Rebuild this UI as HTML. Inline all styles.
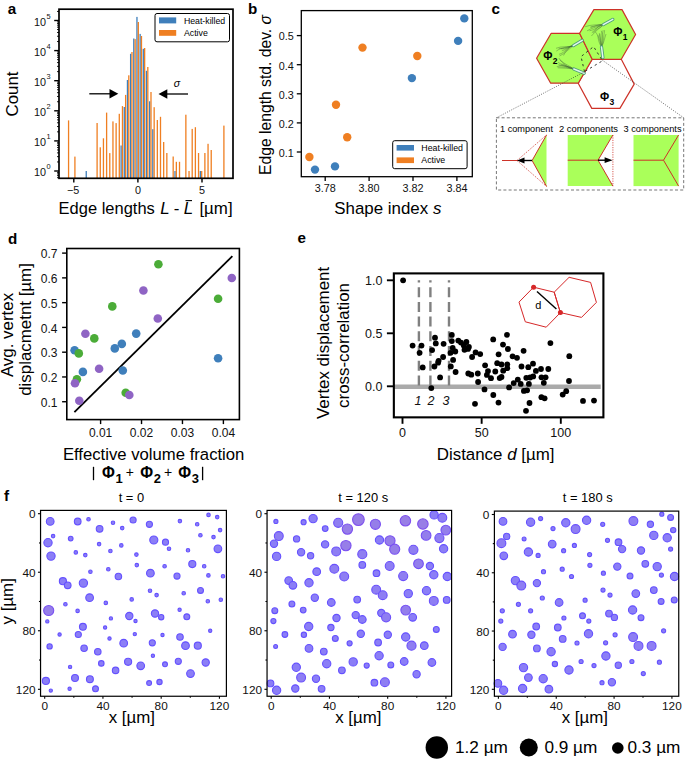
<!DOCTYPE html>
<html><head><meta charset="utf-8"><style>html,body{margin:0;padding:0;background:#fff;}svg{display:block;font-family:"Liberation Sans",sans-serif;}</style></head>
<body><svg width="685" height="760" viewBox="0 0 685 760" font-family="Liberation Sans, sans-serif"><rect x="85.59" y="171.00" width="1.30" height="7.30" fill="#3f7fbb" stroke="none" stroke-width="1" />
<rect x="120.46" y="145.50" width="1.30" height="32.80" fill="#3f7fbb" stroke="none" stroke-width="1" />
<rect x="123.63" y="107.00" width="1.30" height="71.30" fill="#3f7fbb" stroke="none" stroke-width="1" />
<rect x="126.80" y="80.00" width="1.30" height="98.30" fill="#3f7fbb" stroke="none" stroke-width="1" />
<rect x="129.97" y="53.80" width="1.30" height="124.50" fill="#3f7fbb" stroke="none" stroke-width="1" />
<rect x="133.14" y="38.50" width="1.30" height="139.80" fill="#3f7fbb" stroke="none" stroke-width="1" />
<rect x="136.31" y="16.90" width="1.30" height="161.40" fill="#3f7fbb" stroke="none" stroke-width="1" />
<rect x="139.48" y="33.90" width="1.30" height="144.40" fill="#3f7fbb" stroke="none" stroke-width="1" />
<rect x="142.65" y="48.80" width="1.30" height="129.50" fill="#3f7fbb" stroke="none" stroke-width="1" />
<rect x="145.82" y="70.80" width="1.30" height="107.50" fill="#3f7fbb" stroke="none" stroke-width="1" />
<rect x="148.99" y="101.30" width="1.30" height="77.00" fill="#3f7fbb" stroke="none" stroke-width="1" />
<rect x="152.16" y="129.20" width="1.30" height="49.10" fill="#3f7fbb" stroke="none" stroke-width="1" />
<rect x="174.35" y="171.00" width="1.30" height="7.30" fill="#3f7fbb" stroke="none" stroke-width="1" />
<rect x="199.71" y="171.00" width="1.30" height="7.30" fill="#3f7fbb" stroke="none" stroke-width="1" />
<rect x="67.92" y="120.40" width="1.30" height="57.90" fill="#ef7f22" stroke="none" stroke-width="1" />
<rect x="74.26" y="156.60" width="1.30" height="21.70" fill="#ef7f22" stroke="none" stroke-width="1" />
<rect x="96.45" y="123.00" width="1.30" height="55.30" fill="#ef7f22" stroke="none" stroke-width="1" />
<rect x="99.62" y="147.30" width="1.30" height="31.00" fill="#ef7f22" stroke="none" stroke-width="1" />
<rect x="102.79" y="138.30" width="1.30" height="40.00" fill="#ef7f22" stroke="none" stroke-width="1" />
<rect x="105.96" y="112.60" width="1.30" height="65.70" fill="#ef7f22" stroke="none" stroke-width="1" />
<rect x="109.13" y="153.10" width="1.30" height="25.20" fill="#ef7f22" stroke="none" stroke-width="1" />
<rect x="112.30" y="121.40" width="1.30" height="56.90" fill="#ef7f22" stroke="none" stroke-width="1" />
<rect x="115.47" y="123.10" width="1.30" height="55.20" fill="#ef7f22" stroke="none" stroke-width="1" />
<rect x="118.64" y="113.80" width="1.30" height="64.50" fill="#ef7f22" stroke="none" stroke-width="1" />
<rect x="121.81" y="106.10" width="1.30" height="72.20" fill="#ef7f22" stroke="none" stroke-width="1" />
<rect x="124.98" y="94.90" width="1.30" height="83.40" fill="#ef7f22" stroke="none" stroke-width="1" />
<rect x="128.15" y="75.30" width="1.30" height="103.00" fill="#ef7f22" stroke="none" stroke-width="1" />
<rect x="131.32" y="52.00" width="1.30" height="126.30" fill="#ef7f22" stroke="none" stroke-width="1" />
<rect x="134.49" y="39.10" width="1.30" height="139.20" fill="#ef7f22" stroke="none" stroke-width="1" />
<rect x="137.66" y="22.00" width="1.30" height="156.30" fill="#ef7f22" stroke="none" stroke-width="1" />
<rect x="140.83" y="36.00" width="1.30" height="142.30" fill="#ef7f22" stroke="none" stroke-width="1" />
<rect x="144.00" y="48.00" width="1.30" height="130.30" fill="#ef7f22" stroke="none" stroke-width="1" />
<rect x="147.17" y="67.00" width="1.30" height="111.30" fill="#ef7f22" stroke="none" stroke-width="1" />
<rect x="150.34" y="92.00" width="1.30" height="86.30" fill="#ef7f22" stroke="none" stroke-width="1" />
<rect x="153.51" y="107.20" width="1.30" height="71.10" fill="#ef7f22" stroke="none" stroke-width="1" />
<rect x="156.68" y="120.00" width="1.30" height="58.30" fill="#ef7f22" stroke="none" stroke-width="1" />
<rect x="159.85" y="116.80" width="1.30" height="61.50" fill="#ef7f22" stroke="none" stroke-width="1" />
<rect x="163.02" y="142.00" width="1.30" height="36.30" fill="#ef7f22" stroke="none" stroke-width="1" />
<rect x="166.19" y="153.00" width="1.30" height="25.30" fill="#ef7f22" stroke="none" stroke-width="1" />
<rect x="172.53" y="156.50" width="1.30" height="21.80" fill="#ef7f22" stroke="none" stroke-width="1" />
<rect x="175.70" y="161.80" width="1.30" height="16.50" fill="#ef7f22" stroke="none" stroke-width="1" />
<rect x="178.87" y="161.80" width="1.30" height="16.50" fill="#ef7f22" stroke="none" stroke-width="1" />
<rect x="185.21" y="114.70" width="1.30" height="63.60" fill="#ef7f22" stroke="none" stroke-width="1" />
<rect x="188.38" y="171.00" width="1.30" height="7.30" fill="#ef7f22" stroke="none" stroke-width="1" />
<rect x="191.55" y="128.90" width="1.30" height="49.40" fill="#ef7f22" stroke="none" stroke-width="1" />
<rect x="194.72" y="127.20" width="1.30" height="51.10" fill="#ef7f22" stroke="none" stroke-width="1" />
<rect x="197.89" y="153.00" width="1.30" height="25.30" fill="#ef7f22" stroke="none" stroke-width="1" />
<rect x="201.06" y="171.00" width="1.30" height="7.30" fill="#ef7f22" stroke="none" stroke-width="1" />
<rect x="204.23" y="153.00" width="1.30" height="25.30" fill="#ef7f22" stroke="none" stroke-width="1" />
<rect x="207.40" y="143.80" width="1.30" height="34.50" fill="#ef7f22" stroke="none" stroke-width="1" />
<rect x="210.57" y="150.00" width="1.30" height="28.30" fill="#ef7f22" stroke="none" stroke-width="1" />
<rect x="223.25" y="125.60" width="1.30" height="52.70" fill="#ef7f22" stroke="none" stroke-width="1" />
<rect x="59.00" y="9.20" width="174.00" height="169.10" fill="none" stroke="#000" stroke-width="1.7" />
<line x1="54.20" y1="171.00" x2="59.00" y2="171.00" stroke="#000" stroke-width="1.4" />
<text x="46.00" y="176.10" font-size="10.8" text-anchor="end" font-weight="normal" font-style="normal" fill="#111" >10</text>
<text x="46.50" y="169.30" font-size="7.4" text-anchor="start" font-weight="normal" font-style="normal" fill="#111" >0</text>
<line x1="54.20" y1="140.90" x2="59.00" y2="140.90" stroke="#000" stroke-width="1.4" />
<text x="46.00" y="146.00" font-size="10.8" text-anchor="end" font-weight="normal" font-style="normal" fill="#111" >10</text>
<text x="46.50" y="139.20" font-size="7.4" text-anchor="start" font-weight="normal" font-style="normal" fill="#111" >1</text>
<line x1="54.20" y1="110.80" x2="59.00" y2="110.80" stroke="#000" stroke-width="1.4" />
<text x="46.00" y="115.90" font-size="10.8" text-anchor="end" font-weight="normal" font-style="normal" fill="#111" >10</text>
<text x="46.50" y="109.10" font-size="7.4" text-anchor="start" font-weight="normal" font-style="normal" fill="#111" >2</text>
<line x1="54.20" y1="80.70" x2="59.00" y2="80.70" stroke="#000" stroke-width="1.4" />
<text x="46.00" y="85.80" font-size="10.8" text-anchor="end" font-weight="normal" font-style="normal" fill="#111" >10</text>
<text x="46.50" y="79.00" font-size="7.4" text-anchor="start" font-weight="normal" font-style="normal" fill="#111" >3</text>
<line x1="54.20" y1="50.60" x2="59.00" y2="50.60" stroke="#000" stroke-width="1.4" />
<text x="46.00" y="55.70" font-size="10.8" text-anchor="end" font-weight="normal" font-style="normal" fill="#111" >10</text>
<text x="46.50" y="48.90" font-size="7.4" text-anchor="start" font-weight="normal" font-style="normal" fill="#111" >4</text>
<line x1="54.20" y1="20.50" x2="59.00" y2="20.50" stroke="#000" stroke-width="1.4" />
<text x="46.00" y="25.60" font-size="10.8" text-anchor="end" font-weight="normal" font-style="normal" fill="#111" >10</text>
<text x="46.50" y="18.80" font-size="7.4" text-anchor="start" font-weight="normal" font-style="normal" fill="#111" >5</text>
<line x1="57.00" y1="177.68" x2="59.00" y2="177.68" stroke="#000" stroke-width="0.9" />
<line x1="57.00" y1="175.66" x2="59.00" y2="175.66" stroke="#000" stroke-width="0.9" />
<line x1="57.00" y1="173.92" x2="59.00" y2="173.92" stroke="#000" stroke-width="0.9" />
<line x1="57.00" y1="172.38" x2="59.00" y2="172.38" stroke="#000" stroke-width="0.9" />
<line x1="57.00" y1="161.94" x2="59.00" y2="161.94" stroke="#000" stroke-width="0.9" />
<line x1="57.00" y1="156.64" x2="59.00" y2="156.64" stroke="#000" stroke-width="0.9" />
<line x1="57.00" y1="152.88" x2="59.00" y2="152.88" stroke="#000" stroke-width="0.9" />
<line x1="57.00" y1="149.96" x2="59.00" y2="149.96" stroke="#000" stroke-width="0.9" />
<line x1="57.00" y1="147.58" x2="59.00" y2="147.58" stroke="#000" stroke-width="0.9" />
<line x1="57.00" y1="145.56" x2="59.00" y2="145.56" stroke="#000" stroke-width="0.9" />
<line x1="57.00" y1="143.82" x2="59.00" y2="143.82" stroke="#000" stroke-width="0.9" />
<line x1="57.00" y1="142.28" x2="59.00" y2="142.28" stroke="#000" stroke-width="0.9" />
<line x1="57.00" y1="131.84" x2="59.00" y2="131.84" stroke="#000" stroke-width="0.9" />
<line x1="57.00" y1="126.54" x2="59.00" y2="126.54" stroke="#000" stroke-width="0.9" />
<line x1="57.00" y1="122.78" x2="59.00" y2="122.78" stroke="#000" stroke-width="0.9" />
<line x1="57.00" y1="119.86" x2="59.00" y2="119.86" stroke="#000" stroke-width="0.9" />
<line x1="57.00" y1="117.48" x2="59.00" y2="117.48" stroke="#000" stroke-width="0.9" />
<line x1="57.00" y1="115.46" x2="59.00" y2="115.46" stroke="#000" stroke-width="0.9" />
<line x1="57.00" y1="113.72" x2="59.00" y2="113.72" stroke="#000" stroke-width="0.9" />
<line x1="57.00" y1="112.18" x2="59.00" y2="112.18" stroke="#000" stroke-width="0.9" />
<line x1="57.00" y1="101.74" x2="59.00" y2="101.74" stroke="#000" stroke-width="0.9" />
<line x1="57.00" y1="96.44" x2="59.00" y2="96.44" stroke="#000" stroke-width="0.9" />
<line x1="57.00" y1="92.68" x2="59.00" y2="92.68" stroke="#000" stroke-width="0.9" />
<line x1="57.00" y1="89.76" x2="59.00" y2="89.76" stroke="#000" stroke-width="0.9" />
<line x1="57.00" y1="87.38" x2="59.00" y2="87.38" stroke="#000" stroke-width="0.9" />
<line x1="57.00" y1="85.36" x2="59.00" y2="85.36" stroke="#000" stroke-width="0.9" />
<line x1="57.00" y1="83.62" x2="59.00" y2="83.62" stroke="#000" stroke-width="0.9" />
<line x1="57.00" y1="82.08" x2="59.00" y2="82.08" stroke="#000" stroke-width="0.9" />
<line x1="57.00" y1="71.64" x2="59.00" y2="71.64" stroke="#000" stroke-width="0.9" />
<line x1="57.00" y1="66.34" x2="59.00" y2="66.34" stroke="#000" stroke-width="0.9" />
<line x1="57.00" y1="62.58" x2="59.00" y2="62.58" stroke="#000" stroke-width="0.9" />
<line x1="57.00" y1="59.66" x2="59.00" y2="59.66" stroke="#000" stroke-width="0.9" />
<line x1="57.00" y1="57.28" x2="59.00" y2="57.28" stroke="#000" stroke-width="0.9" />
<line x1="57.00" y1="55.26" x2="59.00" y2="55.26" stroke="#000" stroke-width="0.9" />
<line x1="57.00" y1="53.52" x2="59.00" y2="53.52" stroke="#000" stroke-width="0.9" />
<line x1="57.00" y1="51.98" x2="59.00" y2="51.98" stroke="#000" stroke-width="0.9" />
<line x1="57.00" y1="41.54" x2="59.00" y2="41.54" stroke="#000" stroke-width="0.9" />
<line x1="57.00" y1="36.24" x2="59.00" y2="36.24" stroke="#000" stroke-width="0.9" />
<line x1="57.00" y1="32.48" x2="59.00" y2="32.48" stroke="#000" stroke-width="0.9" />
<line x1="57.00" y1="29.56" x2="59.00" y2="29.56" stroke="#000" stroke-width="0.9" />
<line x1="57.00" y1="27.18" x2="59.00" y2="27.18" stroke="#000" stroke-width="0.9" />
<line x1="57.00" y1="25.16" x2="59.00" y2="25.16" stroke="#000" stroke-width="0.9" />
<line x1="57.00" y1="23.42" x2="59.00" y2="23.42" stroke="#000" stroke-width="0.9" />
<line x1="57.00" y1="21.88" x2="59.00" y2="21.88" stroke="#000" stroke-width="0.9" />
<line x1="57.00" y1="11.44" x2="59.00" y2="11.44" stroke="#000" stroke-width="0.9" />
<line x1="73.80" y1="178.30" x2="73.80" y2="182.60" stroke="#000" stroke-width="1.4" />
<text x="73.20" y="194.30" font-size="10.8" text-anchor="middle" font-weight="normal" font-style="normal" fill="#111" >−5</text>
<line x1="137.90" y1="178.30" x2="137.90" y2="182.60" stroke="#000" stroke-width="1.4" />
<text x="137.90" y="194.30" font-size="10.8" text-anchor="middle" font-weight="normal" font-style="normal" fill="#111" >0</text>
<line x1="202.00" y1="178.30" x2="202.00" y2="182.60" stroke="#000" stroke-width="1.4" />
<text x="202.00" y="194.30" font-size="10.8" text-anchor="middle" font-weight="normal" font-style="normal" fill="#111" >5</text>
<text x="17.60" y="94.00" font-size="16.9" text-anchor="middle" font-weight="normal" font-style="normal" fill="#000" transform="rotate(-90 17.6 94)">Count</text>
<text x="58.60" y="213.80" font-size="16.9" text-anchor="start" font-weight="normal" font-style="normal" fill="#000" textLength="96.2" lengthAdjust="spacingAndGlyphs">Edge lengths</text>
<text x="160.20" y="213.80" font-size="16.9" text-anchor="start" font-weight="normal" font-style="italic" fill="#000" >L</text>
<text x="173.80" y="213.80" font-size="16.9" text-anchor="start" font-weight="normal" font-style="normal" fill="#000" >-</text>
<text x="183.80" y="213.80" font-size="16.9" text-anchor="start" font-weight="normal" font-style="italic" fill="#000" >L</text>
<line x1="185.50" y1="200.60" x2="192.00" y2="200.60" stroke="#000" stroke-width="1.1" />
<text x="199.40" y="213.80" font-size="16.9" text-anchor="start" font-weight="normal" font-style="normal" fill="#000" >[µm]</text>
<rect x="155.00" y="13.50" width="74.50" height="28.30" fill="#fff" stroke="#000" stroke-width="1.0" rx="2"/>
<rect x="159.00" y="17.40" width="17.20" height="6.00" fill="#3f7fbb" stroke="none" stroke-width="1" />
<rect x="159.00" y="30.00" width="17.20" height="5.80" fill="#ef7f22" stroke="none" stroke-width="1" />
<text x="183.90" y="23.70" font-size="8.8" text-anchor="start" font-weight="normal" font-style="normal" fill="#000" textLength="41.3" lengthAdjust="spacingAndGlyphs">Heat-killed</text>
<text x="183.90" y="36.10" font-size="8.8" text-anchor="start" font-weight="normal" font-style="normal" fill="#000" >Active</text>
<line x1="89.30" y1="93.80" x2="111.00" y2="93.80" stroke="#000" stroke-width="1.3" />
<polygon points="118.3,93.8 109.5,89.1 109.5,98.5" fill="#000"/>
<line x1="166.00" y1="94.00" x2="188.00" y2="94.00" stroke="#000" stroke-width="1.3" />
<polygon points="158.5,94 167.3,89.3 167.3,98.7" fill="#000"/>
<text x="177.00" y="86.50" font-size="10.5" text-anchor="middle" font-weight="normal" font-style="italic" fill="#000" >σ</text>
<text x="7.80" y="14.00" font-size="15.2" text-anchor="start" font-weight="bold" font-style="normal" fill="#000" >a</text>
<rect x="301.30" y="10.60" width="171.00" height="166.10" fill="none" stroke="#000" stroke-width="1.3" />
<line x1="296.80" y1="152.00" x2="301.30" y2="152.00" stroke="#000" stroke-width="1.3" />
<text x="293.80" y="156.80" font-size="10.8" text-anchor="end" font-weight="normal" font-style="normal" fill="#111" >0.1</text>
<line x1="296.80" y1="122.90" x2="301.30" y2="122.90" stroke="#000" stroke-width="1.3" />
<text x="293.80" y="127.70" font-size="10.8" text-anchor="end" font-weight="normal" font-style="normal" fill="#111" >0.2</text>
<line x1="296.80" y1="93.80" x2="301.30" y2="93.80" stroke="#000" stroke-width="1.3" />
<text x="293.80" y="98.60" font-size="10.8" text-anchor="end" font-weight="normal" font-style="normal" fill="#111" >0.3</text>
<line x1="296.80" y1="64.70" x2="301.30" y2="64.70" stroke="#000" stroke-width="1.3" />
<text x="293.80" y="69.50" font-size="10.8" text-anchor="end" font-weight="normal" font-style="normal" fill="#111" >0.4</text>
<line x1="296.80" y1="35.60" x2="301.30" y2="35.60" stroke="#000" stroke-width="1.3" />
<text x="293.80" y="40.40" font-size="10.8" text-anchor="end" font-weight="normal" font-style="normal" fill="#111" >0.5</text>
<line x1="325.20" y1="176.70" x2="325.20" y2="181.00" stroke="#000" stroke-width="1.3" />
<text x="325.20" y="192.20" font-size="10.8" text-anchor="middle" font-weight="normal" font-style="normal" fill="#111" >3.78</text>
<line x1="369.10" y1="176.70" x2="369.10" y2="181.00" stroke="#000" stroke-width="1.3" />
<text x="369.10" y="192.20" font-size="10.8" text-anchor="middle" font-weight="normal" font-style="normal" fill="#111" >3.80</text>
<line x1="413.00" y1="176.70" x2="413.00" y2="181.00" stroke="#000" stroke-width="1.3" />
<text x="413.00" y="192.20" font-size="10.8" text-anchor="middle" font-weight="normal" font-style="normal" fill="#111" >3.82</text>
<line x1="456.90" y1="176.70" x2="456.90" y2="181.00" stroke="#000" stroke-width="1.3" />
<text x="456.90" y="192.20" font-size="10.8" text-anchor="middle" font-weight="normal" font-style="normal" fill="#111" >3.84</text>
<circle cx="309.40" cy="157.00" r="4.20" fill="#ef7f22" />
<circle cx="336.00" cy="104.80" r="4.20" fill="#ef7f22" />
<circle cx="347.20" cy="137.30" r="4.20" fill="#ef7f22" />
<circle cx="362.50" cy="47.60" r="4.20" fill="#ef7f22" />
<circle cx="417.30" cy="56.00" r="4.20" fill="#ef7f22" />
<circle cx="315.00" cy="169.60" r="4.20" fill="#3f7fbb" />
<circle cx="335.00" cy="166.40" r="4.20" fill="#3f7fbb" />
<circle cx="411.90" cy="78.10" r="4.20" fill="#3f7fbb" />
<circle cx="458.10" cy="40.90" r="4.20" fill="#3f7fbb" />
<circle cx="464.30" cy="18.40" r="4.20" fill="#3f7fbb" />
<rect x="392.70" y="140.70" width="74.40" height="28.00" fill="#fff" stroke="#000" stroke-width="1.0" rx="2"/>
<rect x="396.60" y="145.00" width="17.40" height="5.60" fill="#3f7fbb" stroke="none" stroke-width="1" />
<rect x="396.60" y="157.40" width="17.40" height="5.70" fill="#ef7f22" stroke="none" stroke-width="1" />
<text x="421.30" y="150.90" font-size="8.8" text-anchor="start" font-weight="normal" font-style="normal" fill="#000" textLength="41.7" lengthAdjust="spacingAndGlyphs">Heat-killed</text>
<text x="421.30" y="163.10" font-size="8.8" text-anchor="start" font-weight="normal" font-style="normal" fill="#000" >Active</text>
<text x="270.60" y="95.00" font-size="15.6" text-anchor="middle" font-weight="normal" font-style="normal" fill="#000" transform="rotate(-90 270.6 95)" textLength="160" lengthAdjust="spacingAndGlyphs">Edge length std. dev. <tspan font-style="italic">σ</tspan></text>
<text x="387.80" y="214.20" font-size="16.9" text-anchor="middle" font-weight="normal" font-style="normal" fill="#000" >Shape index <tspan font-style="italic">s</tspan></text>
<text x="247.90" y="13.90" font-size="15.2" text-anchor="start" font-weight="bold" font-style="normal" fill="#000" >b</text>
<rect x="66.80" y="248.50" width="172.60" height="171.10" fill="none" stroke="#000" stroke-width="1.6" />
<line x1="62.10" y1="401.73" x2="66.80" y2="401.73" stroke="#000" stroke-width="1.4" />
<text x="57.40" y="406.83" font-size="12" text-anchor="end" font-weight="normal" font-style="normal" fill="#111" >0.1</text>
<line x1="62.10" y1="376.96" x2="66.80" y2="376.96" stroke="#000" stroke-width="1.4" />
<text x="57.40" y="382.06" font-size="12" text-anchor="end" font-weight="normal" font-style="normal" fill="#111" >0.2</text>
<line x1="62.10" y1="352.19" x2="66.80" y2="352.19" stroke="#000" stroke-width="1.4" />
<text x="57.40" y="357.29" font-size="12" text-anchor="end" font-weight="normal" font-style="normal" fill="#111" >0.3</text>
<line x1="62.10" y1="327.42" x2="66.80" y2="327.42" stroke="#000" stroke-width="1.4" />
<text x="57.40" y="332.52" font-size="12" text-anchor="end" font-weight="normal" font-style="normal" fill="#111" >0.4</text>
<line x1="62.10" y1="302.65" x2="66.80" y2="302.65" stroke="#000" stroke-width="1.4" />
<text x="57.40" y="307.75" font-size="12" text-anchor="end" font-weight="normal" font-style="normal" fill="#111" >0.5</text>
<line x1="62.10" y1="277.88" x2="66.80" y2="277.88" stroke="#000" stroke-width="1.4" />
<text x="57.40" y="282.98" font-size="12" text-anchor="end" font-weight="normal" font-style="normal" fill="#111" >0.6</text>
<line x1="62.10" y1="253.11" x2="66.80" y2="253.11" stroke="#000" stroke-width="1.4" />
<text x="57.40" y="258.21" font-size="12" text-anchor="end" font-weight="normal" font-style="normal" fill="#111" >0.7</text>
<line x1="100.60" y1="419.60" x2="100.60" y2="424.10" stroke="#000" stroke-width="1.4" />
<text x="100.60" y="437.00" font-size="12" text-anchor="middle" font-weight="normal" font-style="normal" fill="#111" >0.01</text>
<line x1="141.53" y1="419.60" x2="141.53" y2="424.10" stroke="#000" stroke-width="1.4" />
<text x="141.53" y="437.00" font-size="12" text-anchor="middle" font-weight="normal" font-style="normal" fill="#111" >0.02</text>
<line x1="182.46" y1="419.60" x2="182.46" y2="424.10" stroke="#000" stroke-width="1.4" />
<text x="182.46" y="437.00" font-size="12" text-anchor="middle" font-weight="normal" font-style="normal" fill="#111" >0.03</text>
<line x1="223.39" y1="419.60" x2="223.39" y2="424.10" stroke="#000" stroke-width="1.4" />
<text x="223.39" y="437.00" font-size="12" text-anchor="middle" font-weight="normal" font-style="normal" fill="#111" >0.04</text>
<line x1="74.40" y1="412.10" x2="232.40" y2="256.10" stroke="#000" stroke-width="1.8" />
<circle cx="74.60" cy="350.30" r="4.30" fill="#3f7fbb" />
<circle cx="82.90" cy="371.90" r="4.30" fill="#3f7fbb" />
<circle cx="114.80" cy="348.40" r="4.30" fill="#3f7fbb" />
<circle cx="121.80" cy="343.90" r="4.30" fill="#3f7fbb" />
<circle cx="122.80" cy="370.50" r="4.30" fill="#3f7fbb" />
<circle cx="136.20" cy="333.60" r="4.30" fill="#3f7fbb" />
<circle cx="218.10" cy="358.30" r="4.30" fill="#3f7fbb" />
<circle cx="78.80" cy="353.40" r="4.30" fill="#4bac38" />
<circle cx="76.90" cy="379.30" r="4.30" fill="#4bac38" />
<circle cx="94.30" cy="338.40" r="4.30" fill="#4bac38" />
<circle cx="112.30" cy="306.40" r="4.30" fill="#4bac38" />
<circle cx="125.70" cy="392.70" r="4.30" fill="#4bac38" />
<circle cx="158.40" cy="264.30" r="4.30" fill="#4bac38" />
<circle cx="218.10" cy="298.80" r="4.30" fill="#4bac38" />
<circle cx="75.00" cy="383.30" r="4.30" fill="#8f64c4" />
<circle cx="79.30" cy="400.70" r="4.30" fill="#8f64c4" />
<circle cx="85.40" cy="333.80" r="4.30" fill="#8f64c4" />
<circle cx="99.10" cy="368.80" r="4.30" fill="#8f64c4" />
<circle cx="129.30" cy="395.00" r="4.30" fill="#8f64c4" />
<circle cx="143.40" cy="290.50" r="4.30" fill="#8f64c4" />
<circle cx="157.80" cy="318.50" r="4.30" fill="#8f64c4" />
<circle cx="231.80" cy="278.00" r="4.30" fill="#8f64c4" />
<text x="13.00" y="335.00" font-size="16.9" text-anchor="middle" font-weight="normal" font-style="normal" fill="#000" transform="rotate(-90 13 335)">Avg. vertex</text>
<text x="31.30" y="329.50" font-size="16.9" text-anchor="middle" font-weight="normal" font-style="normal" fill="#000" transform="rotate(-90 31.3 329.5)">displacmetnt [µm]</text>
<text x="153.65" y="459.60" font-size="16.9" text-anchor="middle" font-weight="normal" font-style="normal" fill="#000" textLength="181.5" lengthAdjust="spacingAndGlyphs">Effective volume fraction</text>
<line x1="93.50" y1="466.80" x2="93.50" y2="480.20" stroke="#000" stroke-width="1.3" />
<line x1="202.60" y1="466.80" x2="202.60" y2="480.20" stroke="#000" stroke-width="1.3" />
<text x="108.50" y="477.60" font-size="15.6" text-anchor="middle" font-weight="bold" font-style="normal" fill="#000" >Φ</text>
<text x="119.20" y="482.60" font-size="13" text-anchor="middle" font-weight="bold" font-style="normal" fill="#000" >1</text>
<text x="146.60" y="477.60" font-size="15.6" text-anchor="middle" font-weight="bold" font-style="normal" fill="#000" >Φ</text>
<text x="157.30" y="482.60" font-size="13" text-anchor="middle" font-weight="bold" font-style="normal" fill="#000" >2</text>
<text x="184.60" y="477.60" font-size="15.6" text-anchor="middle" font-weight="bold" font-style="normal" fill="#000" >Φ</text>
<text x="195.30" y="482.60" font-size="13" text-anchor="middle" font-weight="bold" font-style="normal" fill="#000" >3</text>
<text x="129.90" y="476.60" font-size="14" text-anchor="middle" font-weight="normal" font-style="normal" fill="#000" >+</text>
<text x="168.00" y="476.60" font-size="14" text-anchor="middle" font-weight="normal" font-style="normal" fill="#000" >+</text>
<text x="7.90" y="243.50" font-size="15.2" text-anchor="start" font-weight="bold" font-style="normal" fill="#000" >d</text>
<line x1="393.50" y1="386.70" x2="600.70" y2="386.70" stroke="#aaaaaa" stroke-width="4.6" />
<line x1="418.90" y1="385.40" x2="418.90" y2="280.30" stroke="#808080" stroke-width="2.4" stroke-dasharray="10 4.7"/>
<line x1="430.40" y1="385.40" x2="430.40" y2="280.30" stroke="#808080" stroke-width="2.4" stroke-dasharray="10 4.7"/>
<line x1="449.00" y1="385.40" x2="449.00" y2="280.30" stroke="#808080" stroke-width="2.4" stroke-dasharray="10 4.7"/>
<circle cx="403.10" cy="280.30" r="2.90" fill="#000" />
<circle cx="412.60" cy="345.60" r="2.90" fill="#000" />
<circle cx="421.50" cy="345.60" r="2.90" fill="#000" />
<circle cx="419.60" cy="352.80" r="2.90" fill="#000" />
<circle cx="422.70" cy="367.40" r="2.90" fill="#000" />
<circle cx="432.10" cy="350.10" r="2.90" fill="#000" />
<circle cx="431.30" cy="388.10" r="2.90" fill="#000" />
<circle cx="435.00" cy="337.70" r="2.90" fill="#000" />
<circle cx="435.80" cy="343.40" r="2.90" fill="#000" />
<circle cx="443.60" cy="343.80" r="2.90" fill="#000" />
<circle cx="443.10" cy="357.00" r="2.90" fill="#000" />
<circle cx="438.10" cy="362.70" r="2.90" fill="#000" />
<circle cx="434.40" cy="366.50" r="2.90" fill="#000" />
<circle cx="440.10" cy="377.40" r="2.90" fill="#000" />
<circle cx="451.80" cy="334.90" r="2.90" fill="#000" />
<circle cx="451.80" cy="341.10" r="2.90" fill="#000" />
<circle cx="452.70" cy="348.00" r="2.90" fill="#000" />
<circle cx="450.50" cy="352.80" r="2.90" fill="#000" />
<circle cx="455.30" cy="351.50" r="2.90" fill="#000" />
<circle cx="453.10" cy="359.90" r="2.90" fill="#000" />
<circle cx="450.80" cy="366.40" r="2.90" fill="#000" />
<circle cx="455.60" cy="372.00" r="2.90" fill="#000" />
<circle cx="458.30" cy="340.60" r="2.90" fill="#000" />
<circle cx="461.00" cy="342.60" r="2.90" fill="#000" />
<circle cx="466.40" cy="342.00" r="2.90" fill="#000" />
<circle cx="463.80" cy="345.40" r="2.90" fill="#000" />
<circle cx="468.90" cy="347.00" r="2.90" fill="#000" />
<circle cx="464.50" cy="349.80" r="2.90" fill="#000" />
<circle cx="468.00" cy="348.90" r="2.90" fill="#000" />
<circle cx="472.10" cy="357.00" r="2.90" fill="#000" />
<circle cx="468.30" cy="373.50" r="2.90" fill="#000" />
<circle cx="471.30" cy="374.70" r="2.90" fill="#000" />
<circle cx="475.60" cy="352.40" r="2.90" fill="#000" />
<circle cx="480.20" cy="354.10" r="2.90" fill="#000" />
<circle cx="477.80" cy="373.50" r="2.90" fill="#000" />
<circle cx="478.10" cy="382.00" r="2.90" fill="#000" />
<circle cx="484.50" cy="389.40" r="2.90" fill="#000" />
<circle cx="493.30" cy="395.00" r="2.90" fill="#000" />
<circle cx="475.00" cy="403.80" r="2.90" fill="#000" />
<circle cx="498.50" cy="402.60" r="2.90" fill="#000" />
<circle cx="493.20" cy="339.40" r="2.90" fill="#000" />
<circle cx="507.00" cy="334.80" r="2.90" fill="#000" />
<circle cx="503.00" cy="344.60" r="2.90" fill="#000" />
<circle cx="507.90" cy="349.00" r="2.90" fill="#000" />
<circle cx="498.60" cy="354.30" r="2.90" fill="#000" />
<circle cx="485.10" cy="365.30" r="2.90" fill="#000" />
<circle cx="488.00" cy="371.10" r="2.90" fill="#000" />
<circle cx="486.90" cy="374.90" r="2.90" fill="#000" />
<circle cx="495.30" cy="371.50" r="2.90" fill="#000" />
<circle cx="491.00" cy="378.20" r="2.90" fill="#000" />
<circle cx="499.70" cy="378.10" r="2.90" fill="#000" />
<circle cx="497.20" cy="363.20" r="2.90" fill="#000" />
<circle cx="501.50" cy="364.50" r="2.90" fill="#000" />
<circle cx="507.30" cy="364.40" r="2.90" fill="#000" />
<circle cx="507.30" cy="368.20" r="2.90" fill="#000" />
<circle cx="503.20" cy="370.70" r="2.90" fill="#000" />
<circle cx="509.10" cy="387.40" r="2.90" fill="#000" />
<circle cx="513.70" cy="383.10" r="2.90" fill="#000" />
<circle cx="517.80" cy="379.60" r="2.90" fill="#000" />
<circle cx="520.70" cy="383.90" r="2.90" fill="#000" />
<circle cx="523.60" cy="350.80" r="2.90" fill="#000" />
<circle cx="512.60" cy="356.30" r="2.90" fill="#000" />
<circle cx="517.00" cy="357.80" r="2.90" fill="#000" />
<circle cx="521.50" cy="366.50" r="2.90" fill="#000" />
<circle cx="528.30" cy="367.20" r="2.90" fill="#000" />
<circle cx="533.00" cy="363.70" r="2.90" fill="#000" />
<circle cx="535.90" cy="370.90" r="2.90" fill="#000" />
<circle cx="526.30" cy="377.80" r="2.90" fill="#000" />
<circle cx="530.10" cy="377.50" r="2.90" fill="#000" />
<circle cx="533.20" cy="376.40" r="2.90" fill="#000" />
<circle cx="528.90" cy="383.90" r="2.90" fill="#000" />
<circle cx="523.90" cy="390.90" r="2.90" fill="#000" />
<circle cx="527.10" cy="390.30" r="2.90" fill="#000" />
<circle cx="529.50" cy="403.00" r="2.90" fill="#000" />
<circle cx="526.00" cy="410.80" r="2.90" fill="#000" />
<circle cx="550.40" cy="343.10" r="2.90" fill="#000" />
<circle cx="569.30" cy="356.20" r="2.90" fill="#000" />
<circle cx="541.00" cy="369.00" r="2.90" fill="#000" />
<circle cx="548.30" cy="369.00" r="2.90" fill="#000" />
<circle cx="541.50" cy="377.30" r="2.90" fill="#000" />
<circle cx="545.60" cy="377.30" r="2.90" fill="#000" />
<circle cx="543.80" cy="382.80" r="2.90" fill="#000" />
<circle cx="569.00" cy="381.00" r="2.90" fill="#000" />
<circle cx="566.20" cy="391.20" r="2.90" fill="#000" />
<circle cx="562.70" cy="394.60" r="2.90" fill="#000" />
<circle cx="541.40" cy="397.20" r="2.90" fill="#000" />
<circle cx="544.60" cy="398.30" r="2.90" fill="#000" />
<circle cx="583.00" cy="400.90" r="2.90" fill="#000" />
<circle cx="594.00" cy="400.60" r="2.90" fill="#000" />
<circle cx="501.50" cy="377.00" r="2.90" fill="#000" />
<circle cx="438.60" cy="360.80" r="2.90" fill="#000" />
<polygon points="533.6,287.2 554.2,292.2 560.4,312.6 546.2,327.2 525.3,321.8 519,302.1" fill="none" stroke="#d62728" stroke-width="1"/>
<polygon points="554.2,292.2 569.1,277.3 590.6,282.4 596.4,302.4 581.5,317.4 560.4,312.6" fill="none" stroke="#d62728" stroke-width="1"/>
<circle cx="533.60" cy="287.20" r="2.50" fill="#d62728" />
<circle cx="560.40" cy="312.60" r="2.50" fill="#d62728" />
<line x1="537.00" y1="291.60" x2="556.40" y2="309.10" stroke="#000" stroke-width="1.4" />
<text x="538.20" y="309.40" font-size="11" text-anchor="middle" font-weight="normal" font-style="normal" fill="#000" >d</text>
<rect x="393.85" y="273.40" width="209.55" height="143.95" fill="none" stroke="#000" stroke-width="2.1" />
<line x1="386.90" y1="386.30" x2="393.85" y2="386.30" stroke="#000" stroke-width="1.9" />
<text x="382.40" y="390.80" font-size="12.5" text-anchor="end" font-weight="normal" font-style="normal" fill="#111" >0.0</text>
<line x1="386.90" y1="333.30" x2="393.85" y2="333.30" stroke="#000" stroke-width="1.9" />
<text x="382.40" y="337.80" font-size="12.5" text-anchor="end" font-weight="normal" font-style="normal" fill="#111" >0.5</text>
<line x1="386.90" y1="280.30" x2="393.85" y2="280.30" stroke="#000" stroke-width="1.9" />
<text x="382.40" y="284.80" font-size="12.5" text-anchor="end" font-weight="normal" font-style="normal" fill="#111" >1.0</text>
<line x1="402.50" y1="417.35" x2="402.50" y2="423.80" stroke="#000" stroke-width="1.9" />
<text x="402.50" y="436.80" font-size="12.5" text-anchor="middle" font-weight="normal" font-style="normal" fill="#111" >0</text>
<line x1="481.65" y1="417.35" x2="481.65" y2="423.80" stroke="#000" stroke-width="1.9" />
<text x="481.65" y="436.80" font-size="12.5" text-anchor="middle" font-weight="normal" font-style="normal" fill="#111" >50</text>
<line x1="560.80" y1="417.35" x2="560.80" y2="423.80" stroke="#000" stroke-width="1.9" />
<text x="560.80" y="436.80" font-size="12.5" text-anchor="middle" font-weight="normal" font-style="normal" fill="#111" >100</text>
<text x="418.00" y="405.00" font-size="12.5" text-anchor="middle" font-weight="normal" font-style="italic" fill="#111" >1</text>
<text x="431.10" y="405.00" font-size="12.5" text-anchor="middle" font-weight="normal" font-style="italic" fill="#111" >2</text>
<text x="446.00" y="405.00" font-size="12.5" text-anchor="middle" font-weight="normal" font-style="italic" fill="#111" >3</text>
<text x="329.00" y="342.90" font-size="16.9" text-anchor="middle" font-weight="normal" font-style="normal" fill="#000" transform="rotate(-90 329 342.9)">Vertex displacement</text>
<text x="349.30" y="345.50" font-size="16.9" text-anchor="middle" font-weight="normal" font-style="normal" fill="#000" transform="rotate(-90 349.3 345.5)">cross-correlation</text>
<text x="495.60" y="459.70" font-size="16.9" text-anchor="middle" font-weight="normal" font-style="normal" fill="#000" >Distance <tspan font-style="italic">d</tspan> [µm]</text>
<text x="297.40" y="243.00" font-size="15.2" text-anchor="start" font-weight="bold" font-style="normal" fill="#000" >e</text>
<polygon points="592.2,59.3 621.3,59.3 634.2,84.1 619.9,108.4 591.8,108.4 578.2,83.2" fill="#fff" stroke="#cd3228" stroke-width="1.2" stroke-linejoin="round"/>
<polygon points="551.2,33.3 579.6,33.3 592.2,59.3 578.2,83.2 550.7,83.2 536.6,58.3" fill="#aaff5a" stroke="#cd3228" stroke-width="1.2" stroke-linejoin="round"/>
<polygon points="593.9,9.6 622,9.6 635.6,34.5 621.3,59.3 592.2,59.3 579.6,33.3" fill="#aaff5a" stroke="#cd3228" stroke-width="1.2" stroke-linejoin="round"/>
<path d="M603.3,24.6 C599.7,28.0 595.3,31.3 591.4,36.0" fill="none" stroke="#3c5e38" stroke-width="0.55" opacity="0.7"/>
<path d="M603.3,24.6 C600.9,28.7 595.9,28.5 592.9,32.9" fill="none" stroke="#3c5e38" stroke-width="0.55" opacity="0.7"/>
<path d="M603.3,24.6 C598.8,24.8 595.8,29.8 591.8,32.6" fill="none" stroke="#3c5e38" stroke-width="0.55" opacity="0.7"/>
<path d="M603.3,24.6 C598.9,25.9 595.0,30.0 589.5,30.8" fill="none" stroke="#3c5e38" stroke-width="0.55" opacity="0.7"/>
<path d="M603.3,24.6 C598.4,26.4 592.4,27.7 587.1,30.8" fill="none" stroke="#3c5e38" stroke-width="0.55" opacity="0.7"/>
<path d="M603.3,24.6 C599.1,24.7 594.9,26.3 590.5,27.6" fill="none" stroke="#3c5e38" stroke-width="0.55" opacity="0.7"/>
<path d="M603.3,24.6 C598.9,24.1 595.0,26.3 590.4,26.9" fill="none" stroke="#3c5e38" stroke-width="0.55" opacity="0.7"/>
<path d="M603.3,24.6 C597.7,24.9 590.9,24.5 585.2,26.7" fill="none" stroke="#3c5e38" stroke-width="0.55" opacity="0.7"/>
<line x1="603.30" y1="24.60" x2="612.80" y2="19.40" stroke="#4f9f78" stroke-width="3.3" stroke-linecap="round"/>
<line x1="603.30" y1="24.60" x2="612.80" y2="19.40" stroke="#e2f7ee" stroke-width="1.5" stroke-linecap="round"/>
<path d="M601.5,47.0 C599.9,42.4 599.6,36.9 595.2,31.7" fill="none" stroke="#3c5e38" stroke-width="0.55" opacity="0.7"/>
<path d="M601.5,47.0 C599.1,43.5 598.0,39.3 597.9,35.1" fill="none" stroke="#3c5e38" stroke-width="0.55" opacity="0.7"/>
<path d="M601.5,47.0 C601.5,42.8 599.3,38.1 599.3,33.3" fill="none" stroke="#3c5e38" stroke-width="0.55" opacity="0.7"/>
<path d="M601.5,47.0 C600.4,43.0 600.8,38.2 599.9,33.5" fill="none" stroke="#3c5e38" stroke-width="0.55" opacity="0.7"/>
<path d="M601.5,47.0 C602.1,42.1 603.2,36.3 601.3,30.8" fill="none" stroke="#3c5e38" stroke-width="0.55" opacity="0.7"/>
<path d="M601.5,47.0 C602.5,41.9 601.0,36.2 603.2,30.2" fill="none" stroke="#3c5e38" stroke-width="0.55" opacity="0.7"/>
<path d="M601.5,47.0 C603.8,41.9 603.6,36.1 604.6,30.2" fill="none" stroke="#3c5e38" stroke-width="0.55" opacity="0.7"/>
<path d="M601.5,47.0 C603.8,43.0 604.5,38.5 606.0,34.0" fill="none" stroke="#3c5e38" stroke-width="0.55" opacity="0.7"/>
<line x1="601.50" y1="47.00" x2="602.90" y2="57.60" stroke="#4f9f78" stroke-width="3.3" stroke-linecap="round"/>
<line x1="601.50" y1="47.00" x2="602.90" y2="57.60" stroke="#e2f7ee" stroke-width="1.5" stroke-linecap="round"/>
<path d="M573.4,45.6 C569.7,46.6 566.1,49.8 563.6,55.5" fill="none" stroke="#3c5e38" stroke-width="0.55" opacity="0.7"/>
<path d="M573.4,45.6 C569.2,48.7 564.9,53.6 559.5,56.0" fill="none" stroke="#3c5e38" stroke-width="0.55" opacity="0.7"/>
<path d="M573.4,45.6 C568.4,46.4 564.7,53.0 559.0,54.3" fill="none" stroke="#3c5e38" stroke-width="0.55" opacity="0.7"/>
<path d="M573.4,45.6 C569.5,46.2 566.2,49.7 561.8,50.9" fill="none" stroke="#3c5e38" stroke-width="0.55" opacity="0.7"/>
<path d="M573.4,45.6 C568.3,47.3 561.5,47.1 556.4,51.0" fill="none" stroke="#3c5e38" stroke-width="0.55" opacity="0.7"/>
<path d="M573.4,45.6 C569.5,46.3 566.0,49.7 560.8,48.8" fill="none" stroke="#3c5e38" stroke-width="0.55" opacity="0.7"/>
<path d="M573.4,45.6 C568.9,46.3 564.5,49.0 558.7,48.4" fill="none" stroke="#3c5e38" stroke-width="0.55" opacity="0.7"/>
<path d="M573.4,45.6 C568.6,47.6 561.4,45.7 556.0,48.3" fill="none" stroke="#3c5e38" stroke-width="0.55" opacity="0.7"/>
<line x1="573.40" y1="45.60" x2="582.20" y2="40.40" stroke="#4f9f78" stroke-width="3.3" stroke-linecap="round"/>
<line x1="573.40" y1="45.60" x2="582.20" y2="40.40" stroke="#e2f7ee" stroke-width="1.5" stroke-linecap="round"/>
<path d="M573.8,69.0 C569.0,68.4 563.4,68.0 557.7,67.8" fill="none" stroke="#3c5e38" stroke-width="0.55" opacity="0.7"/>
<path d="M573.8,69.0 C568.9,67.7 563.0,66.8 556.8,66.6" fill="none" stroke="#3c5e38" stroke-width="0.55" opacity="0.7"/>
<path d="M573.8,69.0 C569.0,67.9 563.8,65.3 557.9,64.8" fill="none" stroke="#3c5e38" stroke-width="0.55" opacity="0.7"/>
<path d="M573.8,69.0 C570.1,65.8 564.3,66.4 559.1,65.2" fill="none" stroke="#3c5e38" stroke-width="0.55" opacity="0.7"/>
<path d="M573.8,69.0 C569.9,67.9 565.8,65.3 561.4,63.8" fill="none" stroke="#3c5e38" stroke-width="0.55" opacity="0.7"/>
<path d="M573.8,69.0 C569.3,66.6 563.0,66.5 558.1,62.3" fill="none" stroke="#3c5e38" stroke-width="0.55" opacity="0.7"/>
<path d="M573.8,69.0 C569.7,65.9 564.4,64.0 559.8,60.1" fill="none" stroke="#3c5e38" stroke-width="0.55" opacity="0.7"/>
<path d="M573.8,69.0 C568.4,68.2 563.4,64.0 558.9,58.1" fill="none" stroke="#3c5e38" stroke-width="0.55" opacity="0.7"/>
<line x1="573.80" y1="69.00" x2="584.20" y2="73.20" stroke="#4f9f78" stroke-width="3.3" stroke-linecap="round"/>
<line x1="573.80" y1="69.00" x2="584.20" y2="73.20" stroke="#e2f7ee" stroke-width="1.5" stroke-linecap="round"/>
<polygon points="584.5,71.6 581,56.6 593.6,46.6 602.5,60.8" fill="none" stroke="#222" stroke-width="0.9" stroke-dasharray="2.3 3.2"/>
<path d="M496.4,117.8 L584.5,71.8" fill="none" stroke="#333" stroke-width="0.7" stroke-dasharray="1 1.4"/>
<path d="M602.5,60.3 L683.7,117.8" fill="none" stroke="#333" stroke-width="0.7" stroke-dasharray="1 1.4"/>
<text x="613.30" y="35.80" font-size="13.6" text-anchor="start" font-weight="bold" font-style="normal" fill="#000" textLength="9.2" lengthAdjust="spacingAndGlyphs">Φ</text>
<text x="625.10" y="40.40" font-size="8.5" text-anchor="middle" font-weight="bold" font-style="normal" fill="#000" >1</text>
<text x="543.30" y="59.60" font-size="13.6" text-anchor="start" font-weight="bold" font-style="normal" fill="#000" textLength="9.2" lengthAdjust="spacingAndGlyphs">Φ</text>
<text x="555.10" y="64.20" font-size="8.5" text-anchor="middle" font-weight="bold" font-style="normal" fill="#000" >2</text>
<text x="600.00" y="100.80" font-size="13.6" text-anchor="start" font-weight="bold" font-style="normal" fill="#000" textLength="9.2" lengthAdjust="spacingAndGlyphs">Φ</text>
<text x="611.80" y="105.40" font-size="8.5" text-anchor="middle" font-weight="bold" font-style="normal" fill="#000" >3</text>
<rect x="496.40" y="117.80" width="187.30" height="72.20" fill="none" stroke="#666" stroke-width="0.9" stroke-dasharray="3 2.2"/>
<text x="500.00" y="131.60" font-size="9.3" text-anchor="start" font-weight="normal" font-style="normal" fill="#000" textLength="53" lengthAdjust="spacingAndGlyphs">1 component</text>
<text x="559.00" y="131.60" font-size="9.3" text-anchor="start" font-weight="normal" font-style="normal" fill="#000" textLength="59" lengthAdjust="spacingAndGlyphs">2 components</text>
<text x="623.50" y="131.60" font-size="9.3" text-anchor="start" font-weight="normal" font-style="normal" fill="#000" textLength="58" lengthAdjust="spacingAndGlyphs">3 components</text>
<polygon points="546.5,135 532.1,160.5 546.5,186.4" fill="#aaff5a" stroke="none" stroke-width="0" stroke-linejoin="round"/>
<line x1="546.50" y1="135.00" x2="532.10" y2="160.50" stroke="#cd3228" stroke-width="1" />
<line x1="532.10" y1="160.50" x2="546.50" y2="186.40" stroke="#cd3228" stroke-width="1" />
<line x1="502.00" y1="160.50" x2="532.10" y2="160.50" stroke="#cd3228" stroke-width="1" />
<line x1="517.00" y1="160.50" x2="546.50" y2="135.00" stroke="#cd3228" stroke-width="0.8" stroke-dasharray="1.2 1.2"/>
<line x1="517.00" y1="160.50" x2="546.50" y2="186.40" stroke="#cd3228" stroke-width="0.8" stroke-dasharray="1.2 1.2"/>
<line x1="523.00" y1="160.50" x2="532.10" y2="160.50" stroke="#000" stroke-width="1.4" />
<polygon points="517,160.5 524.5,157.6 524.5,163.4" fill="#000"/>
<polygon points="567.7,135 612.9,135 598,160.2 612.9,186.1 567.7,186.1" fill="#aaff5a" stroke="none" stroke-width="0" stroke-linejoin="round"/>
<line x1="567.70" y1="160.20" x2="598.00" y2="160.20" stroke="#cd3228" stroke-width="1" />
<line x1="598.00" y1="160.20" x2="612.90" y2="135.00" stroke="#cd3228" stroke-width="1" />
<line x1="598.00" y1="160.20" x2="612.90" y2="186.10" stroke="#cd3228" stroke-width="1" />
<line x1="612.90" y1="135.00" x2="612.90" y2="186.10" stroke="#cd3228" stroke-width="0.8" stroke-dasharray="1.2 1.2"/>
<line x1="598.00" y1="160.20" x2="605.00" y2="160.20" stroke="#000" stroke-width="1.4" />
<polygon points="612.6,160.2 604.6,157.3 604.6,163.1" fill="#000"/>
<rect x="633.50" y="135.00" width="45.10" height="51.10" fill="#aaff5a" stroke="none" stroke-width="1" />
<line x1="633.50" y1="160.20" x2="663.50" y2="160.20" stroke="#cd3228" stroke-width="1" />
<line x1="663.50" y1="160.20" x2="678.60" y2="135.00" stroke="#cd3228" stroke-width="1" />
<line x1="663.50" y1="160.20" x2="678.60" y2="186.10" stroke="#cd3228" stroke-width="1" />
<text x="491.60" y="13.60" font-size="15.2" text-anchor="start" font-weight="bold" font-style="normal" fill="#000" >c</text>
<circle cx="50.20" cy="521.40" r="3.85" fill="#8b7ef6" stroke="#6450ff" stroke-width="1.1"/>
<circle cx="77.70" cy="521.50" r="3.35" fill="#8b7ef6" stroke="#6450ff" stroke-width="1.1"/>
<circle cx="88.50" cy="519.20" r="1.75" fill="#8b7ef6" stroke="#6450ff" stroke-width="1.1"/>
<circle cx="113.00" cy="522.80" r="1.75" fill="#8b7ef6" stroke="#6450ff" stroke-width="1.1"/>
<circle cx="133.10" cy="520.00" r="3.05" fill="#8b7ef6" stroke="#6450ff" stroke-width="1.1"/>
<circle cx="99.60" cy="528.80" r="3.35" fill="#8b7ef6" stroke="#6450ff" stroke-width="1.1"/>
<circle cx="122.20" cy="528.10" r="1.75" fill="#8b7ef6" stroke="#6450ff" stroke-width="1.1"/>
<circle cx="53.10" cy="536.10" r="1.75" fill="#8b7ef6" stroke="#6450ff" stroke-width="1.1"/>
<circle cx="70.70" cy="538.60" r="2.35" fill="#8b7ef6" stroke="#6450ff" stroke-width="1.1"/>
<circle cx="48.00" cy="542.70" r="4.15" fill="#8b7ef6" stroke="#6450ff" stroke-width="1.1"/>
<circle cx="99.10" cy="544.10" r="1.75" fill="#8b7ef6" stroke="#6450ff" stroke-width="1.1"/>
<circle cx="121.30" cy="545.40" r="1.75" fill="#8b7ef6" stroke="#6450ff" stroke-width="1.1"/>
<circle cx="51.00" cy="556.10" r="4.15" fill="#8b7ef6" stroke="#6450ff" stroke-width="1.1"/>
<circle cx="75.80" cy="552.40" r="1.75" fill="#8b7ef6" stroke="#6450ff" stroke-width="1.1"/>
<circle cx="85.30" cy="555.10" r="1.75" fill="#8b7ef6" stroke="#6450ff" stroke-width="1.1"/>
<circle cx="110.40" cy="551.00" r="1.75" fill="#8b7ef6" stroke="#6450ff" stroke-width="1.1"/>
<circle cx="136.40" cy="554.60" r="1.75" fill="#8b7ef6" stroke="#6450ff" stroke-width="1.1"/>
<circle cx="136.80" cy="565.10" r="1.75" fill="#8b7ef6" stroke="#6450ff" stroke-width="1.1"/>
<circle cx="90.40" cy="571.70" r="1.75" fill="#8b7ef6" stroke="#6450ff" stroke-width="1.1"/>
<circle cx="108.30" cy="569.20" r="1.75" fill="#8b7ef6" stroke="#6450ff" stroke-width="1.1"/>
<circle cx="118.40" cy="576.50" r="3.25" fill="#8b7ef6" stroke="#6450ff" stroke-width="1.1"/>
<circle cx="62.90" cy="581.20" r="3.55" fill="#8b7ef6" stroke="#6450ff" stroke-width="1.1"/>
<circle cx="67.70" cy="585.30" r="3.35" fill="#8b7ef6" stroke="#6450ff" stroke-width="1.1"/>
<circle cx="83.40" cy="583.10" r="4.15" fill="#8b7ef6" stroke="#6450ff" stroke-width="1.1"/>
<circle cx="89.60" cy="597.70" r="3.85" fill="#8b7ef6" stroke="#6450ff" stroke-width="1.1"/>
<circle cx="131.70" cy="599.40" r="1.75" fill="#8b7ef6" stroke="#6450ff" stroke-width="1.1"/>
<circle cx="65.40" cy="604.30" r="1.75" fill="#8b7ef6" stroke="#6450ff" stroke-width="1.1"/>
<circle cx="105.80" cy="602.90" r="1.75" fill="#8b7ef6" stroke="#6450ff" stroke-width="1.1"/>
<circle cx="149.40" cy="524.30" r="3.05" fill="#8b7ef6" stroke="#6450ff" stroke-width="1.1"/>
<circle cx="179.90" cy="521.10" r="1.75" fill="#8b7ef6" stroke="#6450ff" stroke-width="1.1"/>
<circle cx="197.20" cy="524.30" r="1.75" fill="#8b7ef6" stroke="#6450ff" stroke-width="1.1"/>
<circle cx="208.50" cy="514.90" r="1.75" fill="#8b7ef6" stroke="#6450ff" stroke-width="1.1"/>
<circle cx="217.20" cy="517.10" r="1.75" fill="#8b7ef6" stroke="#6450ff" stroke-width="1.1"/>
<circle cx="220.10" cy="530.10" r="1.75" fill="#8b7ef6" stroke="#6450ff" stroke-width="1.1"/>
<circle cx="200.40" cy="535.20" r="1.75" fill="#8b7ef6" stroke="#6450ff" stroke-width="1.1"/>
<circle cx="213.50" cy="537.10" r="1.75" fill="#8b7ef6" stroke="#6450ff" stroke-width="1.1"/>
<circle cx="153.80" cy="540.00" r="4.05" fill="#8b7ef6" stroke="#6450ff" stroke-width="1.1"/>
<circle cx="165.50" cy="542.20" r="3.05" fill="#8b7ef6" stroke="#6450ff" stroke-width="1.1"/>
<circle cx="169.00" cy="548.80" r="1.75" fill="#8b7ef6" stroke="#6450ff" stroke-width="1.1"/>
<circle cx="188.00" cy="550.30" r="1.75" fill="#8b7ef6" stroke="#6450ff" stroke-width="1.1"/>
<circle cx="217.90" cy="548.80" r="3.85" fill="#8b7ef6" stroke="#6450ff" stroke-width="1.1"/>
<circle cx="164.60" cy="566.30" r="1.75" fill="#8b7ef6" stroke="#6450ff" stroke-width="1.1"/>
<circle cx="192.30" cy="564.10" r="3.55" fill="#8b7ef6" stroke="#6450ff" stroke-width="1.1"/>
<circle cx="204.20" cy="566.30" r="1.75" fill="#8b7ef6" stroke="#6450ff" stroke-width="1.1"/>
<circle cx="150.40" cy="573.20" r="3.85" fill="#8b7ef6" stroke="#6450ff" stroke-width="1.1"/>
<circle cx="177.00" cy="576.10" r="3.05" fill="#8b7ef6" stroke="#6450ff" stroke-width="1.1"/>
<circle cx="208.40" cy="575.40" r="1.75" fill="#8b7ef6" stroke="#6450ff" stroke-width="1.1"/>
<circle cx="223.00" cy="576.20" r="1.75" fill="#8b7ef6" stroke="#6450ff" stroke-width="1.1"/>
<circle cx="150.00" cy="590.70" r="1.75" fill="#8b7ef6" stroke="#6450ff" stroke-width="1.1"/>
<circle cx="156.60" cy="595.10" r="1.75" fill="#8b7ef6" stroke="#6450ff" stroke-width="1.1"/>
<circle cx="183.70" cy="593.30" r="1.75" fill="#8b7ef6" stroke="#6450ff" stroke-width="1.1"/>
<circle cx="200.50" cy="590.40" r="2.95" fill="#8b7ef6" stroke="#6450ff" stroke-width="1.1"/>
<circle cx="207.80" cy="601.20" r="1.75" fill="#8b7ef6" stroke="#6450ff" stroke-width="1.1"/>
<circle cx="220.80" cy="599.80" r="1.75" fill="#8b7ef6" stroke="#6450ff" stroke-width="1.1"/>
<circle cx="48.70" cy="610.50" r="5.05" fill="#957ee9" stroke="#7950f1" stroke-width="1.1"/>
<circle cx="77.60" cy="610.90" r="1.75" fill="#8b7ef6" stroke="#6450ff" stroke-width="1.1"/>
<circle cx="110.90" cy="618.40" r="1.65" fill="#8b7ef6" stroke="#6450ff" stroke-width="1.1"/>
<circle cx="47.30" cy="621.40" r="1.65" fill="#8b7ef6" stroke="#6450ff" stroke-width="1.1"/>
<circle cx="82.90" cy="626.80" r="3.45" fill="#8b7ef6" stroke="#6450ff" stroke-width="1.1"/>
<circle cx="105.10" cy="627.50" r="1.65" fill="#8b7ef6" stroke="#6450ff" stroke-width="1.1"/>
<circle cx="59.60" cy="634.50" r="1.65" fill="#8b7ef6" stroke="#6450ff" stroke-width="1.1"/>
<circle cx="78.30" cy="634.50" r="3.05" fill="#8b7ef6" stroke="#6450ff" stroke-width="1.1"/>
<circle cx="109.50" cy="638.50" r="1.65" fill="#8b7ef6" stroke="#6450ff" stroke-width="1.1"/>
<circle cx="49.60" cy="646.40" r="2.65" fill="#8b7ef6" stroke="#6450ff" stroke-width="1.1"/>
<circle cx="84.10" cy="648.20" r="3.25" fill="#8b7ef6" stroke="#6450ff" stroke-width="1.1"/>
<circle cx="97.80" cy="651.70" r="3.25" fill="#8b7ef6" stroke="#6450ff" stroke-width="1.1"/>
<circle cx="101.30" cy="663.40" r="2.75" fill="#8b7ef6" stroke="#6450ff" stroke-width="1.1"/>
<circle cx="70.10" cy="666.90" r="1.65" fill="#8b7ef6" stroke="#6450ff" stroke-width="1.1"/>
<circle cx="115.60" cy="670.40" r="3.25" fill="#8b7ef6" stroke="#6450ff" stroke-width="1.1"/>
<circle cx="45.90" cy="680.90" r="3.55" fill="#8b7ef6" stroke="#6450ff" stroke-width="1.1"/>
<circle cx="75.00" cy="678.00" r="3.45" fill="#8b7ef6" stroke="#6450ff" stroke-width="1.1"/>
<circle cx="89.90" cy="679.20" r="3.45" fill="#8b7ef6" stroke="#6450ff" stroke-width="1.1"/>
<circle cx="50.80" cy="690.60" r="1.65" fill="#8b7ef6" stroke="#6450ff" stroke-width="1.1"/>
<circle cx="69.60" cy="688.80" r="1.65" fill="#8b7ef6" stroke="#6450ff" stroke-width="1.1"/>
<circle cx="95.50" cy="688.80" r="2.95" fill="#8b7ef6" stroke="#6450ff" stroke-width="1.1"/>
<circle cx="129.30" cy="616.00" r="3.65" fill="#8b7ef6" stroke="#6450ff" stroke-width="1.1"/>
<circle cx="135.50" cy="621.00" r="1.65" fill="#8b7ef6" stroke="#6450ff" stroke-width="1.1"/>
<circle cx="155.00" cy="613.50" r="3.65" fill="#8b7ef6" stroke="#6450ff" stroke-width="1.1"/>
<circle cx="161.20" cy="617.20" r="2.65" fill="#8b7ef6" stroke="#6450ff" stroke-width="1.1"/>
<circle cx="179.60" cy="609.80" r="1.65" fill="#8b7ef6" stroke="#6450ff" stroke-width="1.1"/>
<circle cx="186.80" cy="616.80" r="2.95" fill="#8b7ef6" stroke="#6450ff" stroke-width="1.1"/>
<circle cx="134.80" cy="634.10" r="1.65" fill="#8b7ef6" stroke="#6450ff" stroke-width="1.1"/>
<circle cx="162.50" cy="635.00" r="1.65" fill="#8b7ef6" stroke="#6450ff" stroke-width="1.1"/>
<circle cx="210.20" cy="630.80" r="1.65" fill="#8b7ef6" stroke="#6450ff" stroke-width="1.1"/>
<circle cx="180.00" cy="637.00" r="3.25" fill="#8b7ef6" stroke="#6450ff" stroke-width="1.1"/>
<circle cx="123.70" cy="643.20" r="3.85" fill="#8b7ef6" stroke="#6450ff" stroke-width="1.1"/>
<circle cx="152.30" cy="642.80" r="3.05" fill="#8b7ef6" stroke="#6450ff" stroke-width="1.1"/>
<circle cx="185.50" cy="645.70" r="3.85" fill="#8b7ef6" stroke="#6450ff" stroke-width="1.1"/>
<circle cx="197.80" cy="645.70" r="3.55" fill="#8b7ef6" stroke="#6450ff" stroke-width="1.1"/>
<circle cx="152.90" cy="655.80" r="1.65" fill="#8b7ef6" stroke="#6450ff" stroke-width="1.1"/>
<circle cx="128.10" cy="661.80" r="3.55" fill="#8b7ef6" stroke="#6450ff" stroke-width="1.1"/>
<circle cx="140.70" cy="665.80" r="3.85" fill="#8b7ef6" stroke="#6450ff" stroke-width="1.1"/>
<circle cx="165.00" cy="664.30" r="2.45" fill="#8b7ef6" stroke="#6450ff" stroke-width="1.1"/>
<circle cx="178.30" cy="661.30" r="3.05" fill="#8b7ef6" stroke="#6450ff" stroke-width="1.1"/>
<circle cx="205.70" cy="662.50" r="3.65" fill="#8b7ef6" stroke="#6450ff" stroke-width="1.1"/>
<circle cx="190.50" cy="673.60" r="3.85" fill="#8b7ef6" stroke="#6450ff" stroke-width="1.1"/>
<circle cx="149.10" cy="683.10" r="2.45" fill="#8b7ef6" stroke="#6450ff" stroke-width="1.1"/>
<circle cx="159.50" cy="682.00" r="2.65" fill="#8b7ef6" stroke="#6450ff" stroke-width="1.1"/>
<rect x="40.55" y="510.40" width="185.85" height="185.85" fill="none" stroke="#000" stroke-width="1.2" />
<line x1="37.95" y1="513.70" x2="40.55" y2="513.70" stroke="#000" stroke-width="1.1" />
<line x1="44.70" y1="696.25" x2="44.70" y2="698.85" stroke="#000" stroke-width="1.1" />
<text x="35.55" y="518.40" font-size="11.8" text-anchor="end" font-weight="normal" font-style="normal" fill="#111" >0</text>
<text x="44.70" y="710.00" font-size="11.8" text-anchor="middle" font-weight="normal" font-style="normal" fill="#111" >0</text>
<line x1="38.95" y1="542.97" x2="40.55" y2="542.97" stroke="#000" stroke-width="1.1" />
<line x1="73.82" y1="696.25" x2="73.82" y2="697.85" stroke="#000" stroke-width="1.1" />
<line x1="37.95" y1="572.23" x2="40.55" y2="572.23" stroke="#000" stroke-width="1.1" />
<line x1="102.94" y1="696.25" x2="102.94" y2="698.85" stroke="#000" stroke-width="1.1" />
<text x="35.55" y="576.93" font-size="11.8" text-anchor="end" font-weight="normal" font-style="normal" fill="#111" >40</text>
<text x="102.94" y="710.00" font-size="11.8" text-anchor="middle" font-weight="normal" font-style="normal" fill="#111" >40</text>
<line x1="38.95" y1="601.50" x2="40.55" y2="601.50" stroke="#000" stroke-width="1.1" />
<line x1="132.06" y1="696.25" x2="132.06" y2="697.85" stroke="#000" stroke-width="1.1" />
<line x1="37.95" y1="630.76" x2="40.55" y2="630.76" stroke="#000" stroke-width="1.1" />
<line x1="161.18" y1="696.25" x2="161.18" y2="698.85" stroke="#000" stroke-width="1.1" />
<text x="35.55" y="635.46" font-size="11.8" text-anchor="end" font-weight="normal" font-style="normal" fill="#111" >80</text>
<text x="161.18" y="710.00" font-size="11.8" text-anchor="middle" font-weight="normal" font-style="normal" fill="#111" >80</text>
<line x1="38.95" y1="660.03" x2="40.55" y2="660.03" stroke="#000" stroke-width="1.1" />
<line x1="190.30" y1="696.25" x2="190.30" y2="697.85" stroke="#000" stroke-width="1.1" />
<line x1="37.95" y1="689.30" x2="40.55" y2="689.30" stroke="#000" stroke-width="1.1" />
<line x1="219.42" y1="696.25" x2="219.42" y2="698.85" stroke="#000" stroke-width="1.1" />
<text x="35.55" y="694.00" font-size="11.8" text-anchor="end" font-weight="normal" font-style="normal" fill="#111" >120</text>
<text x="219.42" y="710.00" font-size="11.8" text-anchor="middle" font-weight="normal" font-style="normal" fill="#111" >120</text>
<text x="131.80" y="722.70" font-size="16.9" text-anchor="middle" font-weight="normal" font-style="normal" fill="#000" >x [µm]</text>
<circle cx="275.90" cy="521.40" r="2.05" fill="#8b7ef6" stroke="#6450ff" stroke-width="1.1"/>
<circle cx="303.60" cy="522.20" r="2.55" fill="#8b7ef6" stroke="#6450ff" stroke-width="1.1"/>
<circle cx="313.10" cy="518.60" r="4.15" fill="#8b7ef6" stroke="#6450ff" stroke-width="1.1"/>
<circle cx="325.20" cy="528.60" r="2.85" fill="#8b7ef6" stroke="#6450ff" stroke-width="1.1"/>
<circle cx="338.20" cy="522.80" r="4.55" fill="#8f7ef1" stroke="#6c50fa" stroke-width="1.1"/>
<circle cx="347.40" cy="529.10" r="5.15" fill="#977ee8" stroke="#7b50f0" stroke-width="1.1"/>
<circle cx="358.40" cy="519.60" r="5.85" fill="#987ee6" stroke="#7e50ee" stroke-width="1.1"/>
<circle cx="278.80" cy="536.10" r="4.45" fill="#8e7ef3" stroke="#6950fc" stroke-width="1.1"/>
<circle cx="274.00" cy="543.70" r="3.65" fill="#8b7ef6" stroke="#6450ff" stroke-width="1.1"/>
<circle cx="296.60" cy="538.90" r="3.15" fill="#8b7ef6" stroke="#6450ff" stroke-width="1.1"/>
<circle cx="325.10" cy="544.40" r="3.65" fill="#8b7ef6" stroke="#6450ff" stroke-width="1.1"/>
<circle cx="345.90" cy="545.60" r="5.15" fill="#977ee8" stroke="#7b50f0" stroke-width="1.1"/>
<circle cx="336.20" cy="551.40" r="4.45" fill="#8e7ef3" stroke="#6950fc" stroke-width="1.1"/>
<circle cx="276.60" cy="556.40" r="4.15" fill="#8b7ef6" stroke="#6450ff" stroke-width="1.1"/>
<circle cx="301.10" cy="552.20" r="3.65" fill="#8b7ef6" stroke="#6450ff" stroke-width="1.1"/>
<circle cx="310.60" cy="555.70" r="3.15" fill="#8b7ef6" stroke="#6450ff" stroke-width="1.1"/>
<circle cx="316.70" cy="571.70" r="3.85" fill="#8b7ef6" stroke="#6450ff" stroke-width="1.1"/>
<circle cx="334.30" cy="568.80" r="4.45" fill="#8e7ef3" stroke="#6950fc" stroke-width="1.1"/>
<circle cx="344.20" cy="576.50" r="4.45" fill="#8e7ef3" stroke="#6950fc" stroke-width="1.1"/>
<circle cx="288.70" cy="580.60" r="3.85" fill="#8b7ef6" stroke="#6450ff" stroke-width="1.1"/>
<circle cx="292.90" cy="585.30" r="3.85" fill="#8b7ef6" stroke="#6450ff" stroke-width="1.1"/>
<circle cx="309.00" cy="582.80" r="4.15" fill="#8b7ef6" stroke="#6450ff" stroke-width="1.1"/>
<circle cx="314.80" cy="597.70" r="3.65" fill="#8b7ef6" stroke="#6450ff" stroke-width="1.1"/>
<circle cx="331.30" cy="602.50" r="3.85" fill="#8b7ef6" stroke="#6450ff" stroke-width="1.1"/>
<circle cx="357.20" cy="599.60" r="3.35" fill="#8b7ef6" stroke="#6450ff" stroke-width="1.1"/>
<circle cx="291.90" cy="604.00" r="2.95" fill="#8b7ef6" stroke="#6450ff" stroke-width="1.1"/>
<circle cx="375.40" cy="524.30" r="5.05" fill="#957ee9" stroke="#7950f1" stroke-width="1.1"/>
<circle cx="405.40" cy="520.80" r="5.25" fill="#987ee6" stroke="#7e50ee" stroke-width="1.1"/>
<circle cx="422.90" cy="524.00" r="5.25" fill="#987ee6" stroke="#7e50ee" stroke-width="1.1"/>
<circle cx="434.10" cy="514.90" r="4.15" fill="#8b7ef6" stroke="#6450ff" stroke-width="1.1"/>
<circle cx="442.30" cy="517.80" r="4.45" fill="#8e7ef3" stroke="#6950fc" stroke-width="1.1"/>
<circle cx="445.80" cy="530.10" r="4.85" fill="#937eec" stroke="#7450f5" stroke-width="1.1"/>
<circle cx="426.10" cy="535.40" r="4.85" fill="#937eec" stroke="#7450f5" stroke-width="1.1"/>
<circle cx="439.40" cy="538.10" r="4.55" fill="#8f7ef1" stroke="#6c50fa" stroke-width="1.1"/>
<circle cx="379.50" cy="540.00" r="4.15" fill="#8b7ef6" stroke="#6450ff" stroke-width="1.1"/>
<circle cx="390.00" cy="540.80" r="5.05" fill="#957ee9" stroke="#7950f1" stroke-width="1.1"/>
<circle cx="394.70" cy="549.20" r="5.05" fill="#957ee9" stroke="#7950f1" stroke-width="1.1"/>
<circle cx="413.40" cy="549.80" r="4.55" fill="#8f7ef1" stroke="#6c50fa" stroke-width="1.1"/>
<circle cx="443.60" cy="548.80" r="4.15" fill="#8b7ef6" stroke="#6450ff" stroke-width="1.1"/>
<circle cx="362.30" cy="554.20" r="4.55" fill="#8f7ef1" stroke="#6c50fa" stroke-width="1.1"/>
<circle cx="362.30" cy="564.90" r="3.35" fill="#8b7ef6" stroke="#6450ff" stroke-width="1.1"/>
<circle cx="389.70" cy="566.00" r="4.45" fill="#8e7ef3" stroke="#6950fc" stroke-width="1.1"/>
<circle cx="418.50" cy="563.80" r="4.85" fill="#937eec" stroke="#7450f5" stroke-width="1.1"/>
<circle cx="429.90" cy="566.00" r="3.65" fill="#8b7ef6" stroke="#6450ff" stroke-width="1.1"/>
<circle cx="376.50" cy="573.20" r="3.35" fill="#8b7ef6" stroke="#6450ff" stroke-width="1.1"/>
<circle cx="403.20" cy="576.10" r="4.55" fill="#8f7ef1" stroke="#6c50fa" stroke-width="1.1"/>
<circle cx="433.80" cy="574.80" r="4.15" fill="#8b7ef6" stroke="#6450ff" stroke-width="1.1"/>
<circle cx="447.30" cy="576.50" r="4.15" fill="#8b7ef6" stroke="#6450ff" stroke-width="1.1"/>
<circle cx="376.20" cy="589.70" r="4.45" fill="#8e7ef3" stroke="#6950fc" stroke-width="1.1"/>
<circle cx="382.70" cy="595.20" r="4.45" fill="#8e7ef3" stroke="#6950fc" stroke-width="1.1"/>
<circle cx="408.30" cy="593.60" r="4.15" fill="#8b7ef6" stroke="#6450ff" stroke-width="1.1"/>
<circle cx="426.50" cy="590.70" r="4.15" fill="#8b7ef6" stroke="#6450ff" stroke-width="1.1"/>
<circle cx="433.80" cy="600.90" r="4.45" fill="#8e7ef3" stroke="#6950fc" stroke-width="1.1"/>
<circle cx="446.70" cy="599.90" r="3.35" fill="#8b7ef6" stroke="#6450ff" stroke-width="1.1"/>
<circle cx="274.80" cy="610.70" r="2.95" fill="#8b7ef6" stroke="#6450ff" stroke-width="1.1"/>
<circle cx="303.20" cy="610.10" r="2.85" fill="#8b7ef6" stroke="#6450ff" stroke-width="1.1"/>
<circle cx="273.40" cy="621.10" r="2.55" fill="#8b7ef6" stroke="#6450ff" stroke-width="1.1"/>
<circle cx="308.70" cy="626.50" r="4.15" fill="#8b7ef6" stroke="#6450ff" stroke-width="1.1"/>
<circle cx="336.50" cy="618.00" r="3.65" fill="#8b7ef6" stroke="#6450ff" stroke-width="1.1"/>
<circle cx="330.90" cy="627.50" r="3.15" fill="#8b7ef6" stroke="#6450ff" stroke-width="1.1"/>
<circle cx="355.70" cy="615.10" r="3.65" fill="#8b7ef6" stroke="#6450ff" stroke-width="1.1"/>
<circle cx="284.90" cy="634.50" r="2.85" fill="#8b7ef6" stroke="#6450ff" stroke-width="1.1"/>
<circle cx="303.90" cy="634.80" r="2.65" fill="#8b7ef6" stroke="#6450ff" stroke-width="1.1"/>
<circle cx="335.30" cy="638.40" r="2.95" fill="#8b7ef6" stroke="#6450ff" stroke-width="1.1"/>
<circle cx="349.60" cy="643.30" r="2.55" fill="#8b7ef6" stroke="#6450ff" stroke-width="1.1"/>
<circle cx="275.60" cy="646.50" r="1.95" fill="#8b7ef6" stroke="#6450ff" stroke-width="1.1"/>
<circle cx="309.00" cy="648.40" r="3.85" fill="#8b7ef6" stroke="#6450ff" stroke-width="1.1"/>
<circle cx="323.80" cy="651.60" r="3.35" fill="#8b7ef6" stroke="#6450ff" stroke-width="1.1"/>
<circle cx="326.70" cy="663.70" r="4.15" fill="#8b7ef6" stroke="#6450ff" stroke-width="1.1"/>
<circle cx="353.20" cy="661.90" r="4.15" fill="#8b7ef6" stroke="#6450ff" stroke-width="1.1"/>
<circle cx="296.30" cy="667.30" r="4.15" fill="#8b7ef6" stroke="#6450ff" stroke-width="1.1"/>
<circle cx="341.90" cy="670.30" r="3.35" fill="#8b7ef6" stroke="#6450ff" stroke-width="1.1"/>
<circle cx="301.10" cy="677.60" r="4.45" fill="#8e7ef3" stroke="#6950fc" stroke-width="1.1"/>
<circle cx="316.00" cy="678.70" r="3.65" fill="#8b7ef6" stroke="#6450ff" stroke-width="1.1"/>
<circle cx="270.50" cy="683.40" r="3.35" fill="#8b7ef6" stroke="#6450ff" stroke-width="1.1"/>
<circle cx="276.60" cy="690.30" r="4.15" fill="#8b7ef6" stroke="#6450ff" stroke-width="1.1"/>
<circle cx="295.30" cy="688.50" r="3.65" fill="#8b7ef6" stroke="#6450ff" stroke-width="1.1"/>
<circle cx="321.60" cy="688.80" r="3.35" fill="#8b7ef6" stroke="#6450ff" stroke-width="1.1"/>
<circle cx="362.30" cy="619.50" r="3.85" fill="#8b7ef6" stroke="#6450ff" stroke-width="1.1"/>
<circle cx="381.30" cy="613.00" r="3.65" fill="#8b7ef6" stroke="#6450ff" stroke-width="1.1"/>
<circle cx="386.10" cy="617.30" r="4.55" fill="#8f7ef1" stroke="#6c50fa" stroke-width="1.1"/>
<circle cx="405.70" cy="610.10" r="4.85" fill="#937eec" stroke="#7450f5" stroke-width="1.1"/>
<circle cx="412.70" cy="617.30" r="3.85" fill="#8b7ef6" stroke="#6450ff" stroke-width="1.1"/>
<circle cx="360.80" cy="633.80" r="3.65" fill="#8b7ef6" stroke="#6450ff" stroke-width="1.1"/>
<circle cx="387.80" cy="634.80" r="3.65" fill="#8b7ef6" stroke="#6450ff" stroke-width="1.1"/>
<circle cx="436.30" cy="629.40" r="2.95" fill="#8b7ef6" stroke="#6450ff" stroke-width="1.1"/>
<circle cx="405.70" cy="637.00" r="4.15" fill="#8b7ef6" stroke="#6450ff" stroke-width="1.1"/>
<circle cx="378.10" cy="642.50" r="3.35" fill="#8b7ef6" stroke="#6450ff" stroke-width="1.1"/>
<circle cx="411.50" cy="645.70" r="4.55" fill="#8f7ef1" stroke="#6c50fa" stroke-width="1.1"/>
<circle cx="424.30" cy="645.70" r="3.85" fill="#8b7ef6" stroke="#6450ff" stroke-width="1.1"/>
<circle cx="379.10" cy="655.70" r="4.15" fill="#8b7ef6" stroke="#6450ff" stroke-width="1.1"/>
<circle cx="366.70" cy="665.60" r="2.55" fill="#8b7ef6" stroke="#6450ff" stroke-width="1.1"/>
<circle cx="390.80" cy="664.90" r="2.95" fill="#8b7ef6" stroke="#6450ff" stroke-width="1.1"/>
<circle cx="404.20" cy="661.50" r="3.85" fill="#8b7ef6" stroke="#6450ff" stroke-width="1.1"/>
<circle cx="431.90" cy="662.50" r="3.85" fill="#8b7ef6" stroke="#6450ff" stroke-width="1.1"/>
<circle cx="416.60" cy="674.20" r="3.65" fill="#8b7ef6" stroke="#6450ff" stroke-width="1.1"/>
<circle cx="374.40" cy="682.70" r="3.35" fill="#8b7ef6" stroke="#6450ff" stroke-width="1.1"/>
<circle cx="384.90" cy="682.20" r="4.45" fill="#8e7ef3" stroke="#6950fc" stroke-width="1.1"/>
<rect x="267.05" y="510.40" width="184.55" height="185.85" fill="none" stroke="#000" stroke-width="1.2" />
<line x1="264.45" y1="513.70" x2="267.05" y2="513.70" stroke="#000" stroke-width="1.1" />
<line x1="271.20" y1="696.25" x2="271.20" y2="698.85" stroke="#000" stroke-width="1.1" />
<text x="262.05" y="518.40" font-size="11.8" text-anchor="end" font-weight="normal" font-style="normal" fill="#111" >0</text>
<text x="271.20" y="710.00" font-size="11.8" text-anchor="middle" font-weight="normal" font-style="normal" fill="#111" >0</text>
<line x1="265.45" y1="542.97" x2="267.05" y2="542.97" stroke="#000" stroke-width="1.1" />
<line x1="300.32" y1="696.25" x2="300.32" y2="697.85" stroke="#000" stroke-width="1.1" />
<line x1="264.45" y1="572.23" x2="267.05" y2="572.23" stroke="#000" stroke-width="1.1" />
<line x1="329.44" y1="696.25" x2="329.44" y2="698.85" stroke="#000" stroke-width="1.1" />
<text x="262.05" y="576.93" font-size="11.8" text-anchor="end" font-weight="normal" font-style="normal" fill="#111" >40</text>
<text x="329.44" y="710.00" font-size="11.8" text-anchor="middle" font-weight="normal" font-style="normal" fill="#111" >40</text>
<line x1="265.45" y1="601.50" x2="267.05" y2="601.50" stroke="#000" stroke-width="1.1" />
<line x1="358.56" y1="696.25" x2="358.56" y2="697.85" stroke="#000" stroke-width="1.1" />
<line x1="264.45" y1="630.76" x2="267.05" y2="630.76" stroke="#000" stroke-width="1.1" />
<line x1="387.68" y1="696.25" x2="387.68" y2="698.85" stroke="#000" stroke-width="1.1" />
<text x="262.05" y="635.46" font-size="11.8" text-anchor="end" font-weight="normal" font-style="normal" fill="#111" >80</text>
<text x="387.68" y="710.00" font-size="11.8" text-anchor="middle" font-weight="normal" font-style="normal" fill="#111" >80</text>
<line x1="265.45" y1="660.03" x2="267.05" y2="660.03" stroke="#000" stroke-width="1.1" />
<line x1="416.80" y1="696.25" x2="416.80" y2="697.85" stroke="#000" stroke-width="1.1" />
<line x1="264.45" y1="689.30" x2="267.05" y2="689.30" stroke="#000" stroke-width="1.1" />
<line x1="445.92" y1="696.25" x2="445.92" y2="698.85" stroke="#000" stroke-width="1.1" />
<text x="262.05" y="694.00" font-size="11.8" text-anchor="end" font-weight="normal" font-style="normal" fill="#111" >120</text>
<text x="445.92" y="710.00" font-size="11.8" text-anchor="middle" font-weight="normal" font-style="normal" fill="#111" >120</text>
<text x="358.30" y="722.70" font-size="16.9" text-anchor="middle" font-weight="normal" font-style="normal" fill="#000" >x [µm]</text>
<circle cx="503.00" cy="521.40" r="3.85" fill="#8b7ef6" stroke="#6450ff" stroke-width="1.1"/>
<circle cx="530.60" cy="522.20" r="4.15" fill="#8b7ef6" stroke="#6450ff" stroke-width="1.1"/>
<circle cx="540.60" cy="518.60" r="2.05" fill="#8b7ef6" stroke="#6450ff" stroke-width="1.1"/>
<circle cx="553.00" cy="528.60" r="2.05" fill="#8b7ef6" stroke="#6450ff" stroke-width="1.1"/>
<circle cx="565.80" cy="522.80" r="4.15" fill="#8b7ef6" stroke="#6450ff" stroke-width="1.1"/>
<circle cx="575.60" cy="529.10" r="4.45" fill="#8e7ef3" stroke="#6950fc" stroke-width="1.1"/>
<circle cx="506.70" cy="536.40" r="3.15" fill="#8b7ef6" stroke="#6450ff" stroke-width="1.1"/>
<circle cx="501.40" cy="543.20" r="4.45" fill="#8e7ef3" stroke="#6950fc" stroke-width="1.1"/>
<circle cx="524.10" cy="538.90" r="1.95" fill="#8b7ef6" stroke="#6450ff" stroke-width="1.1"/>
<circle cx="552.20" cy="544.10" r="3.85" fill="#8b7ef6" stroke="#6450ff" stroke-width="1.1"/>
<circle cx="574.40" cy="545.40" r="2.05" fill="#8b7ef6" stroke="#6450ff" stroke-width="1.1"/>
<circle cx="563.60" cy="550.70" r="2.05" fill="#8b7ef6" stroke="#6450ff" stroke-width="1.1"/>
<circle cx="503.80" cy="555.80" r="3.85" fill="#8b7ef6" stroke="#6450ff" stroke-width="1.1"/>
<circle cx="528.40" cy="552.00" r="4.15" fill="#8b7ef6" stroke="#6450ff" stroke-width="1.1"/>
<circle cx="538.10" cy="555.40" r="2.05" fill="#8b7ef6" stroke="#6450ff" stroke-width="1.1"/>
<circle cx="543.50" cy="571.70" r="2.05" fill="#8b7ef6" stroke="#6450ff" stroke-width="1.1"/>
<circle cx="562.20" cy="569.20" r="2.05" fill="#8b7ef6" stroke="#6450ff" stroke-width="1.1"/>
<circle cx="571.50" cy="576.50" r="2.05" fill="#8b7ef6" stroke="#6450ff" stroke-width="1.1"/>
<circle cx="515.40" cy="580.60" r="4.15" fill="#8b7ef6" stroke="#6450ff" stroke-width="1.1"/>
<circle cx="521.30" cy="585.60" r="4.45" fill="#8e7ef3" stroke="#6950fc" stroke-width="1.1"/>
<circle cx="536.90" cy="583.10" r="3.65" fill="#8b7ef6" stroke="#6450ff" stroke-width="1.1"/>
<circle cx="542.30" cy="598.00" r="2.05" fill="#8b7ef6" stroke="#6450ff" stroke-width="1.1"/>
<circle cx="559.10" cy="602.50" r="3.85" fill="#8b7ef6" stroke="#6450ff" stroke-width="1.1"/>
<circle cx="585.10" cy="600.20" r="2.05" fill="#8b7ef6" stroke="#6450ff" stroke-width="1.1"/>
<circle cx="518.40" cy="604.30" r="2.05" fill="#8b7ef6" stroke="#6450ff" stroke-width="1.1"/>
<circle cx="586.60" cy="520.30" r="4.15" fill="#8b7ef6" stroke="#6450ff" stroke-width="1.1"/>
<circle cx="602.70" cy="524.30" r="2.05" fill="#8b7ef6" stroke="#6450ff" stroke-width="1.1"/>
<circle cx="633.40" cy="521.10" r="4.45" fill="#8e7ef3" stroke="#6950fc" stroke-width="1.1"/>
<circle cx="650.40" cy="524.30" r="3.15" fill="#8b7ef6" stroke="#6450ff" stroke-width="1.1"/>
<circle cx="661.80" cy="514.20" r="2.05" fill="#8b7ef6" stroke="#6450ff" stroke-width="1.1"/>
<circle cx="670.60" cy="517.40" r="2.95" fill="#8b7ef6" stroke="#6450ff" stroke-width="1.1"/>
<circle cx="673.20" cy="530.10" r="2.65" fill="#8b7ef6" stroke="#6450ff" stroke-width="1.1"/>
<circle cx="653.80" cy="535.40" r="4.15" fill="#8b7ef6" stroke="#6450ff" stroke-width="1.1"/>
<circle cx="667.20" cy="537.80" r="4.15" fill="#8b7ef6" stroke="#6450ff" stroke-width="1.1"/>
<circle cx="607.50" cy="540.30" r="2.05" fill="#8b7ef6" stroke="#6450ff" stroke-width="1.1"/>
<circle cx="618.50" cy="542.20" r="3.35" fill="#8b7ef6" stroke="#6450ff" stroke-width="1.1"/>
<circle cx="622.10" cy="549.10" r="3.65" fill="#8b7ef6" stroke="#6450ff" stroke-width="1.1"/>
<circle cx="641.00" cy="550.50" r="3.65" fill="#8b7ef6" stroke="#6450ff" stroke-width="1.1"/>
<circle cx="670.60" cy="549.10" r="2.05" fill="#8b7ef6" stroke="#6450ff" stroke-width="1.1"/>
<circle cx="589.60" cy="554.60" r="2.05" fill="#8b7ef6" stroke="#6450ff" stroke-width="1.1"/>
<circle cx="589.90" cy="565.30" r="2.05" fill="#8b7ef6" stroke="#6450ff" stroke-width="1.1"/>
<circle cx="617.30" cy="566.60" r="3.65" fill="#8b7ef6" stroke="#6450ff" stroke-width="1.1"/>
<circle cx="645.30" cy="563.80" r="3.35" fill="#8b7ef6" stroke="#6450ff" stroke-width="1.1"/>
<circle cx="657.20" cy="566.60" r="4.15" fill="#8b7ef6" stroke="#6450ff" stroke-width="1.1"/>
<circle cx="603.40" cy="573.20" r="2.05" fill="#8b7ef6" stroke="#6450ff" stroke-width="1.1"/>
<circle cx="630.00" cy="576.10" r="2.95" fill="#8b7ef6" stroke="#6450ff" stroke-width="1.1"/>
<circle cx="661.40" cy="575.10" r="2.05" fill="#8b7ef6" stroke="#6450ff" stroke-width="1.1"/>
<circle cx="674.50" cy="576.50" r="4.15" fill="#8b7ef6" stroke="#6450ff" stroke-width="1.1"/>
<circle cx="603.00" cy="590.10" r="2.05" fill="#8b7ef6" stroke="#6450ff" stroke-width="1.1"/>
<circle cx="610.00" cy="595.10" r="2.05" fill="#8b7ef6" stroke="#6450ff" stroke-width="1.1"/>
<circle cx="635.80" cy="593.60" r="3.85" fill="#8b7ef6" stroke="#6450ff" stroke-width="1.1"/>
<circle cx="653.80" cy="590.10" r="3.35" fill="#8b7ef6" stroke="#6450ff" stroke-width="1.1"/>
<circle cx="661.10" cy="601.40" r="2.95" fill="#8b7ef6" stroke="#6450ff" stroke-width="1.1"/>
<circle cx="674.20" cy="599.90" r="2.95" fill="#8b7ef6" stroke="#6450ff" stroke-width="1.1"/>
<circle cx="502.30" cy="610.80" r="2.05" fill="#8b7ef6" stroke="#6450ff" stroke-width="1.1"/>
<circle cx="530.60" cy="610.80" r="2.05" fill="#8b7ef6" stroke="#6450ff" stroke-width="1.1"/>
<circle cx="500.80" cy="621.10" r="2.05" fill="#8b7ef6" stroke="#6450ff" stroke-width="1.1"/>
<circle cx="536.20" cy="626.50" r="3.35" fill="#8b7ef6" stroke="#6450ff" stroke-width="1.1"/>
<circle cx="563.90" cy="618.00" r="2.05" fill="#8b7ef6" stroke="#6450ff" stroke-width="1.1"/>
<circle cx="557.80" cy="627.50" r="3.35" fill="#8b7ef6" stroke="#6450ff" stroke-width="1.1"/>
<circle cx="582.50" cy="615.80" r="2.95" fill="#8b7ef6" stroke="#6450ff" stroke-width="1.1"/>
<circle cx="512.50" cy="634.20" r="3.85" fill="#8b7ef6" stroke="#6450ff" stroke-width="1.1"/>
<circle cx="531.40" cy="634.80" r="3.65" fill="#8b7ef6" stroke="#6450ff" stroke-width="1.1"/>
<circle cx="562.70" cy="638.90" r="3.35" fill="#8b7ef6" stroke="#6450ff" stroke-width="1.1"/>
<circle cx="577.00" cy="643.00" r="2.05" fill="#8b7ef6" stroke="#6450ff" stroke-width="1.1"/>
<circle cx="502.60" cy="646.90" r="3.65" fill="#8b7ef6" stroke="#6450ff" stroke-width="1.1"/>
<circle cx="536.90" cy="648.40" r="3.35" fill="#8b7ef6" stroke="#6450ff" stroke-width="1.1"/>
<circle cx="551.10" cy="651.70" r="4.15" fill="#8b7ef6" stroke="#6450ff" stroke-width="1.1"/>
<circle cx="554.90" cy="664.00" r="2.65" fill="#8b7ef6" stroke="#6450ff" stroke-width="1.1"/>
<circle cx="581.10" cy="661.50" r="2.05" fill="#8b7ef6" stroke="#6450ff" stroke-width="1.1"/>
<circle cx="523.50" cy="667.60" r="4.15" fill="#8b7ef6" stroke="#6450ff" stroke-width="1.1"/>
<circle cx="569.00" cy="670.00" r="4.15" fill="#8b7ef6" stroke="#6450ff" stroke-width="1.1"/>
<circle cx="528.40" cy="677.60" r="3.85" fill="#8b7ef6" stroke="#6450ff" stroke-width="1.1"/>
<circle cx="543.20" cy="678.70" r="4.15" fill="#8b7ef6" stroke="#6450ff" stroke-width="1.1"/>
<circle cx="497.90" cy="683.40" r="3.85" fill="#8b7ef6" stroke="#6450ff" stroke-width="1.1"/>
<circle cx="503.60" cy="690.30" r="4.15" fill="#8b7ef6" stroke="#6450ff" stroke-width="1.1"/>
<circle cx="522.60" cy="688.50" r="4.15" fill="#8b7ef6" stroke="#6450ff" stroke-width="1.1"/>
<circle cx="548.90" cy="689.20" r="3.85" fill="#8b7ef6" stroke="#6450ff" stroke-width="1.1"/>
<circle cx="588.80" cy="621.10" r="2.05" fill="#8b7ef6" stroke="#6450ff" stroke-width="1.1"/>
<circle cx="609.00" cy="613.60" r="3.35" fill="#8b7ef6" stroke="#6450ff" stroke-width="1.1"/>
<circle cx="614.40" cy="617.40" r="3.15" fill="#8b7ef6" stroke="#6450ff" stroke-width="1.1"/>
<circle cx="632.60" cy="610.00" r="4.15" fill="#8b7ef6" stroke="#6450ff" stroke-width="1.1"/>
<circle cx="641.00" cy="617.70" r="2.95" fill="#8b7ef6" stroke="#6450ff" stroke-width="1.1"/>
<circle cx="588.50" cy="633.80" r="4.15" fill="#8b7ef6" stroke="#6450ff" stroke-width="1.1"/>
<circle cx="615.10" cy="634.80" r="2.05" fill="#8b7ef6" stroke="#6450ff" stroke-width="1.1"/>
<circle cx="663.60" cy="630.80" r="2.05" fill="#8b7ef6" stroke="#6450ff" stroke-width="1.1"/>
<circle cx="633.10" cy="637.10" r="4.45" fill="#8e7ef3" stroke="#6950fc" stroke-width="1.1"/>
<circle cx="605.60" cy="642.80" r="2.05" fill="#8b7ef6" stroke="#6450ff" stroke-width="1.1"/>
<circle cx="638.50" cy="645.90" r="4.45" fill="#8e7ef3" stroke="#6950fc" stroke-width="1.1"/>
<circle cx="651.60" cy="645.90" r="4.45" fill="#8e7ef3" stroke="#6950fc" stroke-width="1.1"/>
<circle cx="605.90" cy="656.00" r="4.15" fill="#8b7ef6" stroke="#6450ff" stroke-width="1.1"/>
<circle cx="594.00" cy="665.60" r="2.05" fill="#8b7ef6" stroke="#6450ff" stroke-width="1.1"/>
<circle cx="618.30" cy="665.20" r="3.15" fill="#8b7ef6" stroke="#6450ff" stroke-width="1.1"/>
<circle cx="631.90" cy="661.50" r="2.05" fill="#8b7ef6" stroke="#6450ff" stroke-width="1.1"/>
<circle cx="659.40" cy="662.20" r="2.05" fill="#8b7ef6" stroke="#6450ff" stroke-width="1.1"/>
<circle cx="643.30" cy="673.60" r="2.05" fill="#8b7ef6" stroke="#6450ff" stroke-width="1.1"/>
<circle cx="602.00" cy="682.70" r="2.05" fill="#8b7ef6" stroke="#6450ff" stroke-width="1.1"/>
<circle cx="611.90" cy="682.20" r="3.65" fill="#8b7ef6" stroke="#6450ff" stroke-width="1.1"/>
<rect x="494.40" y="511.10" width="184.35" height="185.15" fill="none" stroke="#000" stroke-width="1.2" />
<line x1="491.80" y1="514.50" x2="494.40" y2="514.50" stroke="#000" stroke-width="1.1" />
<line x1="498.40" y1="696.25" x2="498.40" y2="698.85" stroke="#000" stroke-width="1.1" />
<text x="489.40" y="519.20" font-size="11.8" text-anchor="end" font-weight="normal" font-style="normal" fill="#111" >0</text>
<text x="498.40" y="710.00" font-size="11.8" text-anchor="middle" font-weight="normal" font-style="normal" fill="#111" >0</text>
<line x1="492.80" y1="543.63" x2="494.40" y2="543.63" stroke="#000" stroke-width="1.1" />
<line x1="527.32" y1="696.25" x2="527.32" y2="697.85" stroke="#000" stroke-width="1.1" />
<line x1="491.80" y1="572.77" x2="494.40" y2="572.77" stroke="#000" stroke-width="1.1" />
<line x1="556.24" y1="696.25" x2="556.24" y2="698.85" stroke="#000" stroke-width="1.1" />
<text x="489.40" y="577.47" font-size="11.8" text-anchor="end" font-weight="normal" font-style="normal" fill="#111" >40</text>
<text x="556.24" y="710.00" font-size="11.8" text-anchor="middle" font-weight="normal" font-style="normal" fill="#111" >40</text>
<line x1="492.80" y1="601.90" x2="494.40" y2="601.90" stroke="#000" stroke-width="1.1" />
<line x1="585.16" y1="696.25" x2="585.16" y2="697.85" stroke="#000" stroke-width="1.1" />
<line x1="491.80" y1="631.04" x2="494.40" y2="631.04" stroke="#000" stroke-width="1.1" />
<line x1="614.08" y1="696.25" x2="614.08" y2="698.85" stroke="#000" stroke-width="1.1" />
<text x="489.40" y="635.74" font-size="11.8" text-anchor="end" font-weight="normal" font-style="normal" fill="#111" >80</text>
<text x="614.08" y="710.00" font-size="11.8" text-anchor="middle" font-weight="normal" font-style="normal" fill="#111" >80</text>
<line x1="492.80" y1="660.17" x2="494.40" y2="660.17" stroke="#000" stroke-width="1.1" />
<line x1="643.00" y1="696.25" x2="643.00" y2="697.85" stroke="#000" stroke-width="1.1" />
<line x1="491.80" y1="689.30" x2="494.40" y2="689.30" stroke="#000" stroke-width="1.1" />
<line x1="671.92" y1="696.25" x2="671.92" y2="698.85" stroke="#000" stroke-width="1.1" />
<text x="489.40" y="694.00" font-size="11.8" text-anchor="end" font-weight="normal" font-style="normal" fill="#111" >120</text>
<text x="671.92" y="710.00" font-size="11.8" text-anchor="middle" font-weight="normal" font-style="normal" fill="#111" >120</text>
<text x="584.80" y="722.70" font-size="16.9" text-anchor="middle" font-weight="normal" font-style="normal" fill="#000" >x [µm]</text>
<text x="12.80" y="601.30" font-size="16.9" text-anchor="middle" font-weight="normal" font-style="normal" fill="#000" transform="rotate(-90 12.8 601.3)">y [µm]</text>
<text x="131.40" y="501.90" font-size="12.9" text-anchor="middle" font-weight="normal" font-style="normal" fill="#000" >t = 0</text>
<text x="363.20" y="501.90" font-size="12.9" text-anchor="middle" font-weight="normal" font-style="normal" fill="#000" >t = 120 s</text>
<text x="587.70" y="501.90" font-size="12.9" text-anchor="middle" font-weight="normal" font-style="normal" fill="#000" >t = 180 s</text>
<text x="4.00" y="500.60" font-size="15.2" text-anchor="start" font-weight="bold" font-style="normal" fill="#000" >f</text>
<circle cx="436.80" cy="747.50" r="11.20" fill="#000" />
<text x="455.00" y="753.00" font-size="17.2" text-anchor="start" font-weight="normal" font-style="normal" fill="#000" >1.2 µm</text>
<circle cx="528.80" cy="747.50" r="9.00" fill="#000" />
<text x="544.40" y="753.00" font-size="17.2" text-anchor="start" font-weight="normal" font-style="normal" fill="#000" >0.9 µm</text>
<circle cx="617.80" cy="748.00" r="5.80" fill="#000" />
<text x="627.50" y="753.00" font-size="17.2" text-anchor="start" font-weight="normal" font-style="normal" fill="#000" >0.3 µm</text></svg></body></html>
